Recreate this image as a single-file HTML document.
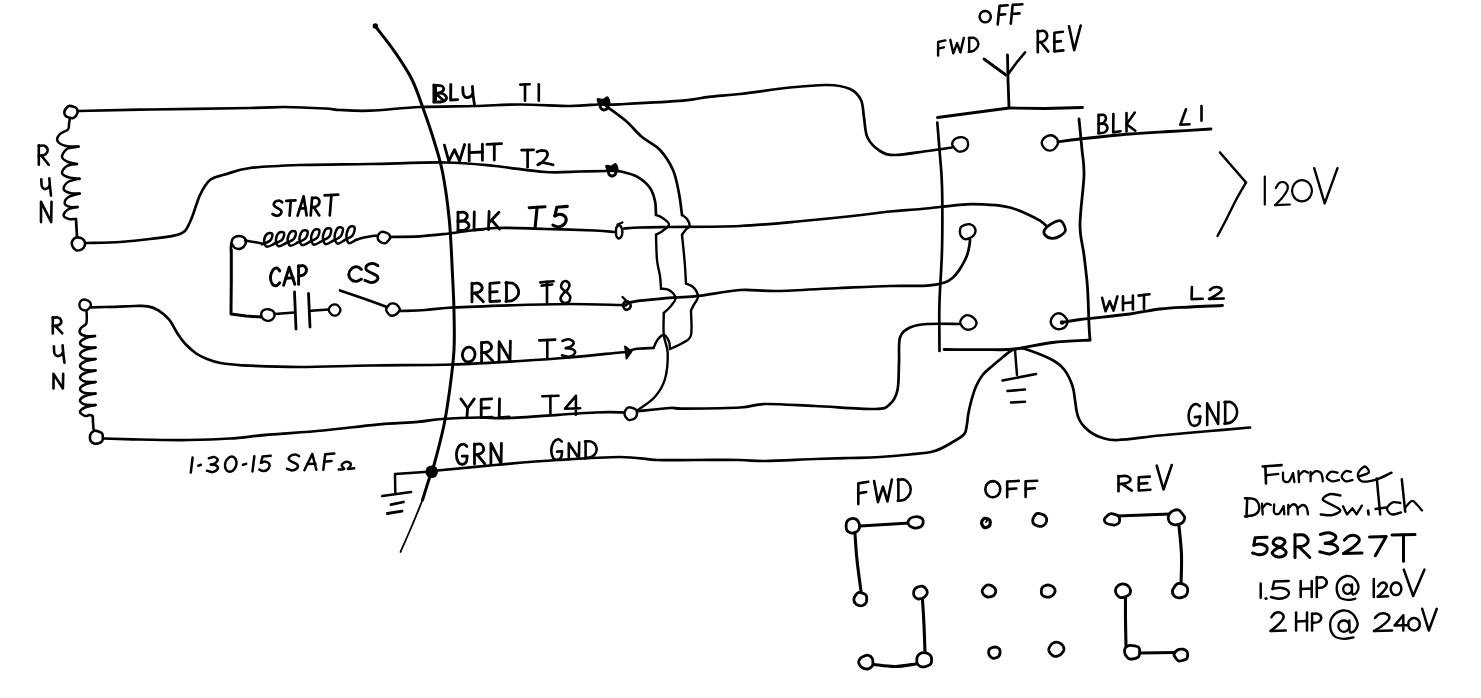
<!DOCTYPE html>
<html><head><meta charset="utf-8"><title>Motor wiring diagram</title>
<style>html,body{margin:0;padding:0;background:#fff;font-family:"Liberation Sans",sans-serif}svg{display:block}</style>
</head><body>
<svg width="1481" height="698" viewBox="0 0 1481 698">
<rect width="1481" height="698" fill="#fff"/>
<g stroke="#000" fill="none" stroke-linecap="round" stroke-linejoin="round">
<path d="M375.5 26.5C378.6 30.6 388.4 42.6 394.4 51.3C400.4 60 406.7 69.1 411.6 78.8C416.5 88.5 419.9 99.4 423.6 109.7C427.3 120 430.9 130.3 434 140.7C437.1 151.1 439.9 158.8 442.5 172C445.1 185.2 447.6 202.8 449.3 220C451 237.2 451.7 259.7 452.5 275C453.3 290.3 453.8 299.5 454 312C454.2 324.5 454.7 337.4 454 350C453.3 362.6 451.7 375 450 387.5C448.3 400 446.7 412.1 444 425C441.3 437.9 436.2 457 434 465C431.8 473 432.9 467.2 431 473C429.1 478.8 423.9 495.5 422.5 500" stroke-width="3" fill="none"/>
<path d="M422.5 500C420.8 504.1 416.2 515.8 412.5 524.5C408.8 533.2 402.5 547.4 400.5 552" stroke-width="1.8" fill="none"/>
<circle cx="375.3" cy="26" r="2.7" fill="#000" stroke="none"/>
<path d="M78 111C90 110.8 121.3 110 150 109.5C178.7 109 227.5 108.4 250 108C272.5 107.6 272.5 106.9 285 107C297.5 107.1 315.8 108 325 108.5C334.2 109 332.5 109.6 340 110C347.5 110.4 356.7 111.2 370 110.7C383.3 110.2 402.5 107.8 420 107C437.5 106.2 458.3 106.4 475 106C491.7 105.6 504.2 104.5 520 104.5C535.8 104.5 557.2 106 570 106C582.8 106 591.5 104.8 597 104.5C602.5 104.2 602 104.5 603 104.5" stroke-width="2.7" fill="none"/>
<path d="M603 104.5C605.7 104.5 605.7 105 619 104.3C632.3 103.6 668 101.8 683 100.6C698 99.3 699.5 97.9 709 96.8C718.5 95.7 726.5 95.5 740 94C753.5 92.5 775.4 89 790 87.5C804.6 86 817.5 84.8 827.5 85C837.5 85.2 844.4 86.5 850 89C855.6 91.5 858.7 95.2 861 100C863.3 104.8 862.9 111.2 864 117.5C865.1 123.8 864.8 131.9 867.5 137.5C870.2 143.1 875.4 148.1 880 151C884.6 153.9 887.1 155 895 155C902.9 155 918 152.2 927.5 151C937 149.8 947.9 148.1 952 147.5" stroke-width="2.7" fill="none"/>
<path d="M70 118C69.8 119 69.3 122.1 69 124C68.7 125.9 69.5 127.8 68 129.5C66.5 131.2 61.8 132.1 60 134C58.2 135.9 56.5 139 57.5 141C58.5 143 62.5 145.1 66 146C69.5 146.9 76.4 146.5 78.5 146.6" stroke-width="2.5" fill="none"/>
<path d="M78.5 146.6C76.6 147 69.8 147.3 67 149C64.2 150.7 61.8 154.8 62 157C62.2 159.2 65.5 160.8 68 162C70.5 163.2 75.5 163.7 77 164" stroke-width="2.5" fill="none"/>
<path d="M77 164C75.3 164.3 69.5 164.5 67 166C64.5 167.5 61.7 171.1 62 173C62.3 174.9 66.1 176.6 69 177.5C71.9 178.4 77.8 178.5 79.6 178.7" stroke-width="2.5" fill="none"/>
<path d="M79.6 178.7C77.7 179.2 70.7 180.3 68 182C65.3 183.7 63.3 187.2 63.6 189C63.9 190.8 67.3 192.2 70 193C72.7 193.8 78 193.5 79.6 193.6" stroke-width="2.5" fill="none"/>
<path d="M79.6 193.6C77.8 194.2 71 195.3 68.5 197C66 198.7 64.5 201.8 64.7 203.5C65 205.2 67.9 206.4 70 207C72.1 207.6 76.2 207 77.5 207" stroke-width="2.5" fill="none"/>
<path d="M77.5 207C75.9 207.4 70.3 208.1 68 209.5C65.7 210.9 63.4 213.8 63.6 215.4C63.8 217 66.9 218.4 69 219C71.1 219.6 74.8 219 76 219" stroke-width="2.5" fill="none"/>
<path d="M76 219C76.1 220.5 76.3 225 76.5 228C76.7 231 76.9 235.5 77 237" stroke-width="2.7" fill="none"/>
<path d="M77.6 112C77.6 113.2 76.9 114.5 76.2 115.5C75.5 116.5 74.3 117.8 73.2 118.1C72 118.5 70.3 118 69 117.6C67.8 117.2 66.2 116.7 65.5 115.7C64.7 114.8 64.3 113.2 64.3 112C64.4 110.8 65.1 109.6 65.9 108.6C66.6 107.6 67.7 106.4 68.9 106C70.1 105.7 71.7 106.1 72.9 106.5C74.2 106.8 75.7 107.4 76.4 108.3C77.2 109.3 77.6 110.8 77.6 112Z" stroke-width="2.6" fill="#fff"/>
<path d="M85 244C85 245.2 84.5 246.5 83.8 247.5C83.1 248.4 81.9 249.4 80.6 249.9C79.4 250.4 77.5 250.7 76.2 250.3C75 249.9 73.9 248.5 73.2 247.5C72.4 246.4 71.9 245.2 71.8 244C71.7 242.8 72 241.3 72.7 240.2C73.5 239.2 74.9 238 76.2 237.6C77.5 237.2 79.4 237.5 80.7 237.9C82 238.4 83.3 239.3 84.1 240.4C84.8 241.4 85.1 242.8 85 244Z" stroke-width="2.6" fill="#fff"/>
<path d="M85.5 243C91.2 242.8 109.2 242.7 120 242C130.8 241.3 140 240.3 150 239C160 237.7 173.3 236.8 180 234C186.7 231.2 186.7 228.5 190 222C193.3 215.5 196.7 202 200 195C203.3 188 205.8 183.4 210 180C214.2 176.6 218.3 176.5 225 174.5C231.7 172.5 237.5 169.6 250 168C262.5 166.4 280 165.7 300 165C320 164.3 345.8 164.4 370 164C394.2 163.6 424.2 162.2 445 162.5C465.8 162.8 478.3 164.4 495 166C511.7 167.6 530.8 171.1 545 172C559.2 172.9 569.7 171.7 580 171.5C590.3 171.3 602.5 171.1 607 171" stroke-width="2.7" fill="none"/>
<path d="M231 251C231 250 230.7 247.1 231 245C231.3 242.9 231.7 240 233 238.5C234.3 237 237 236 239 236C241 236 243.9 237.2 245 238.5C246.1 239.8 246.2 242.3 245.5 244C244.8 245.7 242.8 247.8 241 248.5C239.2 249.2 236.5 248.8 235 248C233.5 247.2 232.5 244.7 232 244" stroke-width="2.5" fill="none"/>
<path d="M231.3 250L231.3 280L231 314L246 316L261 317" stroke-width="3" fill="none"/>
<path d="M245 240.5C246.5 240.8 251.2 241.5 254 242C256.8 242.5 260.7 243.2 262 243.5" stroke-width="2.5" fill="none"/>
<path d="M262 244.4C263.4 243.8 268.5 242.2 270.2 240.5C271.9 238.8 272.8 235.1 272.3 234C271.9 232.9 268.7 232.6 267.3 233.7C265.9 234.8 264.2 238.3 264.1 240.5C264 242.7 265.1 246.1 266.7 246.7C268.3 247.3 272.6 244.6 273.8 244.1C274.9 243.6 272.4 244.5 273.8 243.8C275.1 243.1 280.3 241.6 282 239.8C283.7 238 284.6 234.2 284.1 233.1C283.6 231.9 280.4 231.6 279 232.7C277.7 233.9 276 237.5 275.9 239.8C275.8 242 276.8 245.5 278.4 246.2C280.1 246.8 284.3 244 285.5 243.5C286.7 243 284.1 244 285.5 243.2C286.9 242.5 292 240.9 293.7 239.1C295.4 237.2 296.3 233.4 295.8 232.1C295.4 230.9 292.2 230.6 290.8 231.8C289.4 233 287.7 236.8 287.6 239.1C287.5 241.4 288.6 245 290.2 245.7C291.8 246.3 296.1 243.4 297.2 242.9C298.4 242.4 295.9 243.4 297.2 242.6C298.6 241.9 303.8 240.3 305.5 238.4C307.2 236.5 308.1 232.5 307.6 231.2C307.1 230 303.9 229.7 302.5 230.9C301.2 232 299.5 236 299.4 238.4C299.3 240.7 300.3 244.5 301.9 245.1C303.6 245.8 307.8 242.8 309 242.3C310.2 241.8 307.6 242.8 309 242.1C310.4 241.3 315.5 239.6 317.2 237.6C318.9 235.7 319.8 231.6 319.3 230.3C318.9 229 315.7 228.7 314.3 229.9C312.9 231.1 311.2 235.2 311.1 237.6C311 240.1 312.1 244 313.7 244.6C315.3 245.3 319.6 242.2 320.8 241.7C321.9 241.2 319.4 242.3 320.8 241.5C322.1 240.7 327.3 238.9 329 236.9C330.7 234.9 331.6 230.7 331.1 229.4C330.6 228 327.4 227.7 326 229C324.7 230.2 323 234.4 322.9 236.9C322.8 239.5 323.8 243.4 325.4 244.1C327.1 244.8 331.3 241.6 332.5 241.1C333.7 240.6 331.1 241.7 332.5 240.9C333.9 240.1 339 238.3 340.7 236.2C342.4 234.1 343.3 229.8 342.8 228.4C342.4 227.1 339.2 226.7 337.8 228C336.4 229.3 334.7 233.6 334.6 236.2C334.5 238.8 335.6 242.9 337.2 243.6C338.8 244.3 343.1 241 344.2 240.5C345.4 239.9 342.9 241.1 344.2 240.3C345.6 239.5 350.8 237.6 352.5 235.5C354.2 233.4 355.1 228.9 354.6 227.5C354.1 226.1 350.9 225.8 349.5 227.1C348.2 228.4 346.5 232.8 346.4 235.5C346.3 238.2 347.3 242.4 348.9 243.1C350.6 243.8 354.8 240.4 356 239.9" stroke-width="2.5" fill="none"/>
<path d="M356 240C357 239.7 359.7 238.6 362 238C364.3 237.4 367.3 236.9 370 236.5C372.7 236.1 376.7 235.7 378 235.5" stroke-width="2.5" fill="none"/>
<path d="M390.4 237.5C390.3 238.6 389.1 239.6 388.3 240.6C387.5 241.5 386.8 242.8 385.7 243.1C384.6 243.5 382.9 243.1 381.7 242.6C380.6 242.2 379.5 241.5 378.8 240.6C378.1 239.7 377.7 238.5 377.7 237.5C377.7 236.5 378 235.2 378.7 234.3C379.3 233.4 380.4 232.2 381.6 231.9C382.7 231.6 384.2 232.1 385.4 232.4C386.6 232.8 387.9 233.3 388.8 234.2C389.6 235 390.5 236.4 390.4 237.5Z" stroke-width="2.5" fill="#fff"/>
<path d="M274.7 315C274.6 316.2 273.9 317.5 273.1 318.5C272.3 319.4 271 320.4 269.8 320.7C268.6 321.1 267 320.7 265.7 320.3C264.5 319.9 263.3 319.2 262.6 318.3C261.8 317.4 261.3 316.2 261.2 315C261.1 313.8 261.3 312.3 262 311.4C262.8 310.4 264.3 309.7 265.6 309.4C266.9 309 268.5 309.1 269.7 309.5C271 309.8 272.5 310.5 273.3 311.4C274.1 312.3 274.7 313.8 274.7 315Z" stroke-width="2.4" fill="#fff"/>
<path d="M274.6 314L288 313L294 312.5" stroke-width="2.5" fill="none"/>
<path d="M294.5 292L296 329" stroke-width="2.8" fill="none"/>
<path d="M308.5 293.5L310 327" stroke-width="2.8" fill="none"/>
<path d="M311 310.7L328.5 309.6" stroke-width="2.5" fill="none"/>
<path d="M340.5 310C340.5 311 339.9 312.2 339.2 313.1C338.6 314 337.6 315 336.6 315.4C335.5 315.7 333.9 315.7 332.9 315.3C331.8 314.9 330.9 313.9 330.2 313C329.5 312.2 328.9 311 328.8 310C328.8 309 329.3 307.7 330 306.8C330.7 305.9 331.7 304.9 332.8 304.6C333.9 304.2 335.5 304.3 336.6 304.7C337.6 305.1 338.6 306 339.2 306.9C339.9 307.8 340.5 309 340.5 310Z" stroke-width="2.3" fill="#fff"/>
<path d="M340 290.5L365 299L387 307" stroke-width="2.7" fill="none"/>
<path d="M399.8 309.6C399.7 310.7 398.6 312 397.7 312.9C396.9 313.8 395.9 314.8 394.7 315.2C393.5 315.7 391.8 315.9 390.6 315.5C389.4 315.2 388.4 313.9 387.7 312.9C386.9 311.9 386.1 310.7 386.1 309.6C386.1 308.5 387 307.3 387.8 306.3C388.5 305.4 389.4 304.2 390.6 303.7C391.8 303.3 393.6 303.3 394.8 303.7C396.1 304 397.3 305 398.1 306C398.9 307 399.9 308.5 399.8 309.6Z" stroke-width="2.4" fill="#fff"/>
<path d="M390 237C395 236.9 410.8 236.8 420 236.3C429.2 235.8 432.5 235.4 445 234C457.5 232.6 478.3 228.8 495 228C511.7 227.2 528.3 228.6 545 229C561.7 229.4 583.5 230 595 230.5C606.5 231 610.8 231.8 614 232" stroke-width="2.7" fill="none"/>
<path d="M624 228.5C626.7 228.3 632.5 227.8 640 227.5C647.5 227.2 652.3 227.2 669 227C685.7 226.8 717.8 227 740 226C762.2 225 783.8 222.7 802.5 221C821.2 219.3 837.9 217.6 852.5 216C867.1 214.4 879.6 212.6 890 211.5C900.4 210.4 906.7 210.2 915 209.5C923.3 208.8 931.4 207.9 940 207C948.6 206.1 959 204.7 966.5 204.3C974 203.9 979.8 204.3 985 204.5C990.2 204.7 993.8 204.8 998 205.3C1002.2 205.8 1005.9 206.4 1010 207.5C1014.1 208.6 1017.6 209.8 1022.5 212C1027.4 214.2 1035.3 217.8 1039.6 220.4C1043.8 223 1046.6 226.3 1048 227.5" stroke-width="2.7" fill="none"/>
<path d="M399.5 311C403.8 310.8 416.2 310.6 425 310C433.8 309.4 436.2 308.3 452 307.5C467.8 306.7 500.3 305.6 520 305C539.7 304.4 553.3 304 570 304C586.7 304 610.7 304.8 620 305C629.3 305.2 625 305 626 305" stroke-width="2.7" fill="none"/>
<path d="M626 305C627.3 304.4 626.2 302.8 634 301.6C641.8 300.4 662 298.6 672.8 297.7C683.6 296.8 687.4 297.2 698.6 295.9C709.8 294.6 726.9 290.8 740 290C753.1 289.2 760.8 291.3 777.5 291C794.2 290.7 821.2 288.8 840 288C858.8 287.2 875.4 286.4 890 286C904.6 285.6 918.4 286.3 927.5 285.7C936.6 285.1 940.4 283.9 944.6 282.5C948.9 281.1 950.6 279.5 953 277.5C955.4 275.5 957.1 273.1 959 270.4C960.9 267.6 963 263.9 964.5 261C966 258.1 966.9 256 967.7 253.3C968.5 250.6 969.1 247.3 969.5 245C969.9 242.7 969.9 240.4 970 239.5" stroke-width="2.7" fill="none"/>
<path d="M91 307.3C95 307.2 107.7 307 115 306.8C122.3 306.6 129.5 306.1 135 306C140.5 305.9 144.1 305.6 148 306.3C151.9 307 154.9 308.1 158.4 310.3C161.9 312.5 166 315.9 169.2 319.7C172.3 323.5 174.6 329.1 177.3 333.2C180 337.2 182.2 340.6 185.4 344C188.6 347.4 192.6 351 196.2 353.5C199.8 356 202.9 357.4 207 359C211.1 360.6 214.7 361.9 220.5 363C226.3 364.1 228.8 364.6 242 365.3C255.2 366 278.7 367 300 367C321.3 367 344.6 365.9 370 365.5C395.4 365.1 427.5 365.2 452.5 364.5C477.5 363.8 500.4 362.2 520 361C539.6 359.8 553.3 358.9 570 357.5C586.7 356.1 610.5 353.4 620 352.5C629.5 351.6 625.8 352.1 627 352" stroke-width="2.7" fill="none"/>
<path d="M627 352C628.4 351.5 631 349.7 635.4 349C639.8 348.3 650.5 348.2 653.5 348" stroke-width="2.7" fill="none"/>
<path d="M653.5 348C654.1 346.7 655.7 342.2 657.4 340C659.1 337.8 661.9 334.8 663.8 335C665.7 335.2 668 339.2 669 341.5C670 343.8 669.8 347.8 670 349" stroke-width="2.4" fill="none"/>
<path d="M86.5 311C86.5 312.2 86.9 315.8 86.8 318C86.7 320.2 87 322.3 86 324C85 325.7 82 326.5 81 328C80 329.5 79.2 331.7 80 333C80.8 334.3 83.5 335.5 86 336C88.5 336.5 93.5 336 95 336" stroke-width="2.5" fill="none"/>
<path d="M95 336C93.3 336.4 87.5 337.3 85 338.5C82.5 339.7 80 341.6 80 343C80 344.4 82.4 346.2 85 347C87.6 347.8 93.8 347.4 95.5 347.5" stroke-width="2.5" fill="none"/>
<path d="M95.5 347.5C93.8 347.9 87.6 348.8 85 350C82.4 351.2 80 353.1 80 354.5C80 355.9 82.4 357.8 85 358.5C87.6 359.2 93.8 358.9 95.5 359" stroke-width="2.5" fill="none"/>
<path d="M95.5 359C93.8 359.4 87.6 360.3 85 361.5C82.4 362.7 80 364.6 80 366C80 367.4 82.4 369.2 85 370C87.6 370.8 93.8 370.4 95.5 370.5" stroke-width="2.5" fill="none"/>
<path d="M95.5 370.5C93.8 370.9 87.6 371.8 85 373C82.4 374.2 80 376.1 80 377.5C80 378.9 82.4 380.8 85 381.5C87.6 382.2 93.8 381.9 95.5 382" stroke-width="2.5" fill="none"/>
<path d="M95.5 382C93.8 382.4 87.6 383.3 85 384.5C82.4 385.7 80 387.6 80 389C80 390.4 82.4 392.2 85 393C87.6 393.8 93.8 393.4 95.5 393.5" stroke-width="2.5" fill="none"/>
<path d="M95.5 393.5C93.8 393.9 87.6 394.8 85 396C82.4 397.2 80 399.1 80 400.5C80 401.9 82.4 403.8 85 404.5C87.6 405.2 93.8 404.9 95.5 405" stroke-width="2.5" fill="none"/>
<path d="M95.5 405C93.8 405.4 87.6 406.3 85 407.5C82.4 408.7 80 410.6 80 412C80 413.4 83.5 415.5 85 416C86.5 416.5 88.3 415.2 89 415" stroke-width="2.5" fill="none"/>
<path d="M89 415C89.6 415.2 91.8 414.8 92.5 416C93.2 417.2 92.8 419.8 93 422C93.2 424.2 93.4 427.8 93.5 429" stroke-width="2.6" fill="none"/>
<path d="M90.9 305C90.9 306 90.1 307.1 89.4 308C88.7 308.8 87.8 309.8 86.8 310.1C85.8 310.4 84.3 310.4 83.2 310C82.2 309.7 81 308.9 80.4 308.1C79.8 307.3 79.5 306.1 79.4 305C79.4 303.9 79.6 302.7 80.2 301.8C80.8 300.9 82.1 300 83.1 299.7C84.2 299.4 85.6 299.7 86.7 300.1C87.8 300.4 88.9 301 89.6 301.9C90.4 302.7 91 304 90.9 305Z" stroke-width="2.4" fill="#fff"/>
<path d="M102.8 437C102.9 438.3 102.9 439.8 102.2 440.9C101.5 441.9 100 442.8 98.7 443.2C97.3 443.7 95.6 443.9 94.2 443.6C92.9 443.2 91.4 442.1 90.7 441C90 439.9 89.9 438.3 89.9 437C90 435.7 90.4 434.3 91.1 433.3C91.8 432.3 93.1 431.1 94.3 430.7C95.6 430.4 97.2 431 98.4 431.4C99.7 431.8 101.2 432.3 102 433.3C102.7 434.2 102.8 435.7 102.8 437Z" stroke-width="2.6" fill="#fff"/>
<path d="M103.5 438.5C109.6 438.7 125.9 439.2 140 439.5C154.1 439.8 173 440.2 188 440C203 439.8 216.5 439.4 230 438.5C243.5 437.6 253.5 435.9 269 434.6C284.5 433.3 305 432.2 323 430.5C341 428.8 361.2 426 377 424.6C392.8 423.2 407 422.8 417.8 421.9C428.6 421 431.6 419.7 442 419C452.4 418.3 468.7 417.7 480 417.5C491.3 417.3 490.8 418.8 510 418C529.2 417.2 576 413.4 595 412.5C614 411.6 619.2 412.5 624 412.5" stroke-width="2.7" fill="none"/>
<path d="M637.5 411.2C642.9 410.7 662.4 408.4 670 408C677.6 407.6 671.3 408.7 683 408.6C694.7 408.5 726.3 408.3 740 407.5C753.7 406.7 752.5 404.2 765 404C777.5 403.8 796.7 405.2 815 406C833.3 406.8 862.5 409.3 875 409C887.5 408.7 886.2 407.2 890 404C893.8 400.8 896 396.9 897.5 390C899 383.1 898.6 371.2 899 362.5C899.4 353.8 898.2 343.3 900 337.5C901.8 331.7 905.4 329.8 910 327.5C914.6 325.2 919.3 324.6 927.5 324C935.7 323.4 953.8 324 959 324" stroke-width="2.7" fill="none"/>
<path d="M637 413.7C637 414.9 636.5 416.3 635.8 417.2C635.1 418.2 633.9 418.9 632.7 419.4C631.5 419.8 629.8 420.4 628.7 420C627.5 419.7 626.5 418.3 625.8 417.2C625.1 416.2 624.5 414.9 624.5 413.7C624.4 412.5 624.9 411.1 625.6 410C626.2 408.9 627.4 407.6 628.6 407.3C629.8 406.9 631.5 407.6 632.7 408C633.9 408.5 635.4 409 636.1 410C636.8 410.9 637.1 412.5 637 413.7Z" stroke-width="2.4" fill="#fff"/>
<path d="M437.5 470.5C447.1 469.6 475 466.8 495 465C515 463.2 536.7 461.3 557.5 460C578.3 458.7 603.3 457 620 457C636.7 457 645 459.5 657.5 460C670 460.5 681.2 460 695 460C708.8 460 728.3 459.8 740 460C751.7 460.2 752.5 461.2 765 461C777.5 460.8 800.8 459.5 815 459C829.2 458.5 839.2 458.3 850 458C860.8 457.7 870 457.6 880 457C890 456.4 901 455.4 910 454.5C919 453.6 927 453.3 934 451.3C941 449.3 947 445.4 952 442.5C957 439.6 961.7 437.3 964.2 434.2C966.7 431.1 966.3 427.3 967 424C967.7 420.7 967.5 418.2 968.2 414.2C969 410.2 970.2 404.7 971.5 400C972.8 395.3 974.3 390.2 976.2 386C978.1 381.8 980.3 377.8 983 374.5C985.7 371.2 989 368.9 992.3 366C995.6 363.1 999.7 359.7 1003 357C1006.3 354.3 1009.5 351.4 1012.3 350C1015.1 348.6 1017.3 348.5 1020 348.5C1022.7 348.5 1023 348.1 1028.4 350C1033.8 351.9 1046.4 356.7 1052.4 360C1058.4 363.3 1061.2 365.7 1064.5 370C1067.8 374.3 1070.8 381 1072.5 386C1074.2 391 1074.3 395.7 1075 400C1075.7 404.3 1076 408.7 1076.8 412C1077.5 415.3 1078.2 417.5 1079.5 420C1080.8 422.5 1082.3 424.8 1084.5 427C1086.7 429.2 1089.6 431.7 1092.5 433.5C1095.4 435.3 1097.8 436.7 1102 437.8C1106.2 438.9 1108.3 440.4 1118 440C1127.7 439.6 1144.7 437 1160 435.5C1175.3 434 1195 432.3 1210 431C1225 429.7 1243.3 428.1 1250 427.5" stroke-width="2.7" fill="none"/>
<circle cx="431.7" cy="471.7" r="6.3" fill="#000" stroke="none"/>
<path d="M428 471.7L395 474L395.3 493" stroke-width="2.5" fill="none"/>
<path d="M382.3 496L411 492" stroke-width="2.7" fill="none"/>
<path d="M391 504.6L403.5 502" stroke-width="2.8" fill="none"/>
<path d="M387.3 513.5L402 511.2" stroke-width="2.8" fill="none"/>
<path d="M616 171.5C616.8 171.5 617.5 170.6 621 171.5C624.5 172.4 632.2 173.9 637 176.7C641.8 179.4 647 183.9 650 188C653 192.1 654 196.5 655 201C656 205.5 655.8 212.7 656 215" stroke-width="2.7" fill="none"/>
<path d="M656 215C657.1 215.5 660.3 216.4 662.5 218C664.7 219.6 669 222.2 669 224.4C669 226.6 664.7 229.3 662.5 231C660.3 232.7 657.1 234.1 656 234.7" stroke-width="2.4" fill="none"/>
<path d="M656 234.7C656.2 238.9 656.3 253.1 657 260C657.7 266.9 659.3 271.2 660 276C660.7 280.8 660.8 286.6 661 288.7" stroke-width="2.4" fill="none"/>
<path d="M661 288.7C662.3 288.9 666.6 288.5 669 290C671.4 291.5 675 295.1 675.4 297.7C675.8 300.3 673.4 302.8 671.5 305.4C669.6 307.9 665.1 311.7 663.8 313" stroke-width="2.4" fill="none"/>
<path d="M663.8 313C663.8 316.7 663.1 328.3 663.8 335C664.4 341.7 667.5 345.7 667.7 353C667.9 360.3 667.1 371.7 665 379C662.9 386.3 659.3 391.8 654.8 397C650.3 402.2 640.8 407.8 638 410" stroke-width="2.4" fill="none"/>
<path d="M606 106C609.3 108.5 620 115.8 626 121C632 126.2 636.3 132.2 642 137C647.7 141.8 654.8 144.5 660 150C665.2 155.5 669.8 162.8 673 170C676.2 177.2 677.5 186 679 193.5C680.5 201 681.5 211.4 682 215" stroke-width="2.7" fill="none"/>
<path d="M682 215C682.8 215.7 685.7 217.2 687 219C688.3 220.8 689.8 223.9 689.6 225.7C689.4 227.4 687.3 228 686 229.5C684.7 231 682.7 233.8 682 234.7" stroke-width="2.4" fill="none"/>
<path d="M682 234.7C682.4 238.9 683.8 251.9 684.5 260C685.2 268.1 685.8 279.6 686 283.5" stroke-width="2.4" fill="none"/>
<path d="M686 283.5C687.2 284.1 691.5 285.2 693.5 287.4C695.5 289.5 698 293.4 698 296.4C698 299.4 694.7 303 693.5 305.4C692.3 307.8 691.4 309.7 691 310.6" stroke-width="2.4" fill="none"/>
<path d="M691 310.6C691 314.7 692.3 329.6 691 335C689.7 340.4 686.5 340.5 683 342.8C679.5 345.1 672.2 348 670 349" stroke-width="2.4" fill="none"/>
<path d="M597.5 99C598.1 98.2 601.4 99.8 603 99.5C604.6 99.2 606.2 97 607.2 97C608.2 97 608.6 98.2 609 99.5C609.4 100.8 610.1 103.6 609.5 104.5C608.9 105.4 606.9 105.1 605.2 105C603.5 104.9 600.8 105 599.5 104C598.2 103 596.9 99.8 597.5 99Z" stroke-width="1.5" fill="#000"/>
<path d="M608 105.7C608.1 106.5 607.9 107.5 607.4 108.2C607 108.9 606.1 109.4 605.3 109.7C604.5 110 603.4 110 602.7 109.7C602 109.4 601.3 108.6 600.9 108C600.4 107.3 600.1 106.5 600.1 105.7C600 104.9 600.4 104.1 600.8 103.4C601.3 102.7 601.9 102 602.7 101.7C603.4 101.4 604.6 101.3 605.3 101.6C606.1 101.9 606.6 102.8 607.1 103.5C607.5 104.2 608 104.9 608 105.7Z" stroke-width="3" fill="none"/>
<path d="M606 165.7C606.5 165 609.7 166.5 611.3 166.2C612.9 165.9 614.4 163.7 615.3 163.7C616.3 163.7 616.7 165 617.1 166.2C617.5 167.4 618.2 170.1 617.6 171C617 171.9 615 171.6 613.4 171.5C611.8 171.4 609.2 171.5 608 170.5C606.8 169.5 605.5 166.4 606 165.7Z" stroke-width="1.5" fill="#000"/>
<path d="M615.9 172.2C615.9 172.9 615.7 173.8 615.2 174.3C614.8 174.9 614.1 175.4 613.4 175.7C612.7 175.9 611.8 176 611.1 175.8C610.4 175.6 609.6 175.1 609.2 174.5C608.8 173.9 608.6 172.9 608.6 172.2C608.7 171.5 609.1 170.7 609.5 170.1C609.9 169.5 610.5 168.9 611.1 168.6C611.8 168.4 612.7 168.4 613.4 168.7C614.2 168.9 615 169.4 615.4 169.9C615.8 170.5 615.9 171.5 615.9 172.2Z" stroke-width="3" fill="none"/>
<path d="M622.4 232C622.4 233.3 622.1 234.9 621.7 235.9C621.3 236.9 620.6 237.7 620 238.1C619.4 238.5 618.6 238.6 618 238.2C617.4 237.8 616.7 236.9 616.3 235.9C616 234.8 616 233.3 616 232C616 230.7 615.9 229.1 616.2 228C616.6 226.9 617.3 226 618 225.6C618.6 225.2 619.4 225.1 620 225.5C620.7 226 621.3 227 621.7 228.1C622.1 229.1 622.4 230.7 622.4 232Z" stroke-width="2.4" fill="none"/>
<path d="M617.5 224.5L622.5 222.5" stroke-width="2.2" fill="none"/>
<path d="M630.6 305.5C630.7 306.3 630.4 307.4 629.9 308C629.5 308.7 628.7 309.1 627.9 309.4C627.2 309.7 626.2 310 625.6 309.8C624.9 309.5 624.3 308.6 623.9 307.9C623.5 307.2 623.2 306.3 623.2 305.5C623.2 304.7 623.4 303.7 623.8 303C624.2 302.4 625 301.8 625.7 301.5C626.4 301.3 627.3 301.2 628 301.4C628.7 301.7 629.3 302.4 629.7 303.1C630.2 303.8 630.6 304.7 630.6 305.5Z" stroke-width="2.6" fill="none"/>
<path d="M622.5 297L627 301.5" stroke-width="2.4" fill="none"/>
<path d="M625 346.5L631.5 351.5L626.5 358.5L626 352Z" stroke-width="2" fill="#000"/>
<path d="M937.5 117.5L975 112.5L1009 108L1045 108.5L1082.5 107.5" stroke-width="2.8" fill="none"/>
<path d="M937.3 122.5C937.7 127.1 938.8 141.2 939.5 150C940.2 158.8 941 166.7 941.5 175C942 183.3 942.2 187.5 942.3 200C942.4 212.5 942.4 235 942 250C941.6 265 940.5 280 940 290C939.5 300 939.4 304.2 939.3 310C939.2 315.8 939.3 318.2 939.3 325C939.3 331.8 939.5 346.7 939.5 351" stroke-width="2.7" fill="none"/>
<path d="M1079 119C1079.5 124.2 1081.2 140.7 1082 150C1082.8 159.3 1084.3 162.5 1084 175C1083.7 187.5 1080 211.7 1080 225C1080 238.3 1082.8 244.6 1084 255C1085.2 265.4 1086.7 275.8 1087.5 287.5C1088.3 299.2 1088.6 316.2 1089 325C1089.4 333.8 1089.8 337.5 1090 340" stroke-width="2.8" fill="none"/>
<path d="M944 349.5C951.7 349.5 978.2 349.8 990 349.7C1001.8 349.6 1004.6 350.2 1015 349C1025.4 347.8 1040 344 1052.5 342.5C1065 341 1083.8 340.4 1090 340" stroke-width="2.8" fill="none"/>
<path d="M1009 107.5L1008 80L1007.5 55" stroke-width="2.8" fill="none"/>
<path d="M1006 75L984 59" stroke-width="2.8" fill="none"/>
<path d="M1007.5 75L1017 62L1025 52.5" stroke-width="2.6" fill="none"/>
<path d="M968.1 144.3C968 145.7 967.7 147.4 966.8 148.5C966 149.6 964.4 150.6 963 151.1C961.6 151.5 959.7 151.8 958.3 151.4C956.9 150.9 955.7 149.6 954.7 148.4C953.7 147.2 952.3 145.7 952.2 144.3C952.1 142.9 953.1 140.9 954.1 139.8C955.1 138.6 956.9 137.9 958.4 137.5C959.9 137.1 961.6 136.9 963.1 137.4C964.5 137.8 966.2 138.8 967 139.9C967.8 141.1 968.1 142.9 968.1 144.3Z" stroke-width="2.4" fill="#fff"/>
<path d="M1058.1 142.5C1058.1 143.9 1057.2 145.4 1056.3 146.6C1055.4 147.9 1054.2 149.4 1052.7 150C1051.2 150.6 1048.8 150.7 1047.2 150.2C1045.7 149.7 1044.2 148.2 1043.3 146.9C1042.4 145.6 1041.7 143.9 1041.7 142.5C1041.8 141.1 1042.8 139.5 1043.7 138.4C1044.7 137.3 1046.1 136.3 1047.6 135.8C1049.1 135.3 1051 135.1 1052.5 135.5C1054 136 1055.5 137.1 1056.5 138.3C1057.4 139.4 1058.1 141.1 1058.1 142.5Z" stroke-width="2.4" fill="#fff"/>
<path d="M975.5 231.5C975.4 233 974.3 234.6 973.3 235.7C972.3 236.8 971 237.6 969.5 238.2C968.1 238.8 966.1 239.6 964.7 239.2C963.3 238.9 961.8 237.3 961 236C960.2 234.7 959.9 233 959.9 231.5C959.9 230 960.1 228.1 960.9 227C961.8 225.9 963.6 225.3 965.1 224.8C966.5 224.4 968.2 223.9 969.7 224.2C971.2 224.6 973.1 225.5 974.1 226.7C975.1 227.9 975.6 230 975.5 231.5Z" stroke-width="2.4" fill="#fff"/>
<path d="M1044.5 230C1045.5 228.2 1048.3 225.5 1051 224C1053.7 222.5 1058.1 219.8 1060.5 220.8C1062.9 221.8 1065.6 227.5 1065.5 230C1065.4 232.5 1062.2 234.6 1060 236C1057.8 237.4 1054.5 238.5 1052 238.3C1049.5 238.1 1046.2 236.4 1045 235C1043.8 233.6 1043.5 231.8 1044.5 230Z" stroke-width="2.7" fill="#fff"/>
<path d="M976.6 322.6C976.6 324 975.8 325.9 974.8 327C973.8 328.1 972.1 328.9 970.6 329.3C969.1 329.7 967.3 329.8 965.9 329.4C964.6 329 963.3 327.8 962.3 326.7C961.4 325.5 960.2 324 960.2 322.6C960.1 321.2 961 319.5 962 318.3C962.9 317.1 964.3 315.8 965.8 315.3C967.2 314.9 969.2 315.3 970.6 315.8C972.1 316.4 973.3 317.4 974.3 318.5C975.3 319.6 976.5 321.2 976.6 322.6Z" stroke-width="2.4" fill="#fff"/>
<path d="M1067.4 321C1067.6 322.5 1066.9 324.6 1066 325.9C1065 327.2 1063.2 328.4 1061.6 328.8C1060 329.3 1058 329.3 1056.4 328.8C1054.8 328.3 1053.2 327.1 1052.2 325.8C1051.2 324.5 1050.6 322.5 1050.7 321C1050.8 319.5 1051.8 317.9 1052.8 316.6C1053.8 315.4 1055.1 314 1056.5 313.6C1058 313.1 1060 313.2 1061.4 313.8C1062.8 314.3 1064 315.6 1065 316.8C1066 318 1067.2 319.5 1067.4 321Z" stroke-width="2.4" fill="#fff"/>
<circle cx="1062" cy="322.5" r="2.2" fill="#000" stroke="none"/>
<path d="M1058 142C1061.7 141.5 1068 140.3 1080 139C1092 137.7 1115 135.2 1130 134C1145 132.8 1156.5 132.3 1170 131.5C1183.5 130.7 1204.2 129.4 1211 129" stroke-width="2.8" fill="none"/>
<path d="M1063 322.3C1065.8 321.8 1068.8 320.9 1080 319.5C1091.2 318.1 1116.7 315.8 1130 314C1143.3 312.2 1150 310.2 1160 309C1170 307.8 1179.6 307.6 1190 307C1200.4 306.4 1217.1 305.8 1222.5 305.5" stroke-width="2.8" fill="none"/>
<path d="M1015 350L1017 375" stroke-width="2.5" fill="none"/>
<path d="M1002.5 380.5L1036 374" stroke-width="2.6" fill="none"/>
<path d="M1007.5 391L1025 389.5" stroke-width="2.6" fill="none"/>
<path d="M1011 402.5L1025 401.8" stroke-width="2.6" fill="none"/>
<path d="M1220 152.5L1246 182.5" stroke-width="2.6" fill="none"/>
<path d="M1246 182.5C1244.3 185.4 1239.3 193.8 1236 200C1232.7 206.2 1229.1 214 1226 220C1222.9 226 1218.9 233.3 1217.5 236" stroke-width="2.4" fill="none"/>
<path d="M860 526L910 523" stroke-width="3.1" fill="none"/>
<path d="M855 534C855.3 538.3 856 550.5 857 560C858 569.5 860.3 585.8 861 591" stroke-width="3.1" fill="none"/>
<path d="M859.5 526C859.5 527.3 859.2 528.9 858.5 530C857.7 531 856.4 531.9 855.1 532.4C853.8 532.9 852.1 533.2 850.8 532.9C849.4 532.5 847.7 531.6 846.9 530.4C846.1 529.3 846.1 527.5 846.1 526C846.1 524.5 846.2 522.8 846.9 521.6C847.7 520.4 849.3 519.3 850.7 518.8C852.1 518.4 854 518.3 855.3 518.9C856.6 519.4 857.8 520.8 858.5 522C859.2 523.2 859.5 524.7 859.5 526Z" stroke-width="2.8" fill="#fff"/>
<path d="M923.2 522.5C923.1 523.6 922.6 524.9 921.8 525.8C921 526.6 919.5 527.4 918.2 527.7C916.9 528.1 915.2 528.1 913.8 527.8C912.4 527.5 910.8 526.9 909.8 526C908.8 525.1 908.1 523.7 908 522.5C908 521.3 908.7 519.8 909.6 518.9C910.5 518 912.2 517.3 913.7 517C915.2 516.7 916.9 516.5 918.4 516.8C919.8 517.2 921.6 518 922.4 518.9C923.2 519.9 923.3 521.4 923.2 522.5Z" stroke-width="2.8" fill="#fff"/>
<path d="M866.7 599C866.6 600.3 866.6 601.8 866 602.9C865.3 603.9 863.9 605.1 862.7 605.5C861.4 605.9 859.7 605.8 858.4 605.4C857.1 604.9 855.7 604 854.9 602.9C854.2 601.9 853.8 600.2 853.9 599C854 597.8 854.7 596.5 855.4 595.4C856.2 594.4 857.2 593 858.4 592.6C859.5 592.2 861.2 592.7 862.5 593.1C863.8 593.5 865.4 594.1 866.1 595.1C866.8 596 866.7 597.7 866.7 599Z" stroke-width="2.8" fill="#fff"/>
<path d="M922.5 600C922.8 604.2 923.6 616.2 924 625C924.4 633.8 924.8 647.9 925 652.5" stroke-width="3.1" fill="none"/>
<path d="M927.3 592.5C927.3 593.7 926.3 595.1 925.4 596.1C924.5 597.1 923.3 597.8 922.1 598.3C920.8 598.8 919 599.2 917.7 598.8C916.5 598.5 915 597.3 914.3 596.3C913.6 595.2 913.5 593.7 913.6 592.5C913.6 591.3 914.1 590 914.8 589.1C915.6 588.1 916.8 587.4 918 586.9C919.3 586.5 920.9 585.9 922.2 586.2C923.5 586.5 924.9 587.6 925.8 588.7C926.6 589.7 927.4 591.3 927.3 592.5Z" stroke-width="2.8" fill="#fff"/>
<path d="M874 664.5C877.5 664.8 888 666.6 895 666.5C902 666.4 912.5 664.4 916 664" stroke-width="3.1" fill="none"/>
<path d="M872.9 662C872.9 663.3 873 665 872.2 666.1C871.5 667.2 869.9 668.4 868.4 668.8C867 669.2 865.1 668.9 863.7 668.4C862.3 667.9 861.1 666.9 860.2 665.8C859.4 664.7 858.6 663.2 858.6 662C858.7 660.8 859.6 659.3 860.4 658.3C861.3 657.4 862.6 656.7 863.9 656.2C865.2 655.7 867.1 654.9 868.4 655.3C869.8 655.6 871.3 656.9 872 658C872.8 659.2 872.9 660.7 872.9 662Z" stroke-width="2.8" fill="#fff"/>
<path d="M931.6 659.5C931.7 661 931.5 662.9 930.6 664C929.7 665.2 927.8 665.8 926.3 666.3C924.8 666.7 923 667.1 921.5 666.8C920 666.4 918.3 665.2 917.5 664C916.7 662.7 916.7 660.9 916.8 659.5C916.8 658.1 917.3 656.5 918.1 655.4C918.9 654.3 920.4 653.3 921.7 652.9C923.1 652.5 924.8 652.5 926.3 652.9C927.7 653.3 929.3 654.1 930.2 655.2C931.1 656.3 931.6 658 931.6 659.5Z" stroke-width="2.8" fill="#fff"/>
<path d="M990.2 523C990.2 523.9 990 525 989.5 525.7C989 526.4 988.1 526.8 987.3 527.1C986.5 527.4 985.3 527.9 984.6 527.7C983.8 527.4 983 526.4 982.5 525.6C982 524.9 981.7 523.9 981.6 523C981.6 522.1 981.9 521 982.4 520.3C982.9 519.5 983.7 518.6 984.6 518.3C985.4 518.1 986.5 518.4 987.3 518.7C988.2 519 989.3 519.4 989.8 520.1C990.3 520.8 990.3 522.1 990.2 523Z" stroke-width="3.2" fill="#fff"/>
<path d="M986 522L988.5 518.5" stroke-width="2" fill="none"/>
<path d="M1046.7 520C1046.7 521.3 1046.2 522.8 1045.4 523.9C1044.5 524.9 1043.1 526 1041.7 526.3C1040.4 526.6 1038.8 526.2 1037.4 525.8C1036.1 525.4 1034.5 524.8 1033.7 523.8C1032.9 522.9 1032.6 521.2 1032.7 520C1032.7 518.8 1033.4 517.5 1034.1 516.4C1034.9 515.3 1035.9 513.8 1037.2 513.4C1038.4 513 1040.3 513.6 1041.6 514.1C1043 514.5 1044.5 515.1 1045.3 516.1C1046.1 517.1 1046.7 518.7 1046.7 520Z" stroke-width="2.8" fill="#fff"/>
<path d="M995.8 591C995.9 592.2 995.2 593.7 994.4 594.7C993.6 595.6 992.2 596.4 991 596.7C989.7 597.1 988.2 597.3 987 596.9C985.7 596.6 984.4 595.7 983.6 594.7C982.8 593.7 982 592.2 982.1 591C982.2 589.8 983.2 588.6 984 587.6C984.8 586.6 985.8 585.4 986.9 585C988.1 584.7 989.8 584.9 991 585.3C992.2 585.7 993.3 586.5 994.1 587.5C995 588.4 995.8 589.8 995.8 591Z" stroke-width="2.8" fill="#fff"/>
<path d="M1055.1 591C1055.1 592.2 1054.3 593.6 1053.5 594.5C1052.7 595.5 1051.4 596.4 1050.1 596.8C1048.8 597.2 1047.1 597.3 1045.8 596.9C1044.5 596.6 1042.9 595.8 1042.1 594.8C1041.4 593.8 1041.2 592.2 1041.3 591C1041.3 589.8 1041.6 588.4 1042.4 587.4C1043.2 586.5 1044.6 585.6 1045.9 585.3C1047.2 584.9 1048.8 584.9 1050.1 585.3C1051.4 585.6 1052.8 586.4 1053.7 587.4C1054.5 588.3 1055.1 589.8 1055.1 591Z" stroke-width="2.8" fill="#fff"/>
<path d="M1000.1 652.5C1000 653.6 999.7 654.9 999.1 655.8C998.4 656.7 997.3 657.4 996.2 657.8C995.2 658.2 993.7 658.5 992.6 658.2C991.6 657.9 990.5 656.8 989.8 655.9C989.1 654.9 988.6 653.7 988.6 652.5C988.5 651.3 988.9 649.8 989.6 649C990.4 648.1 991.7 647.7 992.8 647.4C993.9 647.1 995.2 646.9 996.2 647.1C997.3 647.4 998.7 648.1 999.4 649C1000 649.9 1000.1 651.4 1000.1 652.5Z" stroke-width="2.8" fill="#fff"/>
<path d="M1064 649.5C1063.9 650.9 1062.8 652.3 1061.8 653.4C1060.8 654.4 1059.6 655.3 1058.2 655.8C1056.9 656.2 1055 656.5 1053.7 656.1C1052.4 655.7 1051.1 654.4 1050.3 653.3C1049.4 652.2 1048.7 650.8 1048.7 649.5C1048.7 648.2 1049.5 646.8 1050.3 645.7C1051.1 644.5 1052.2 643.2 1053.6 642.7C1055 642.1 1057 642.1 1058.5 642.5C1059.9 643 1061.6 644 1062.5 645.1C1063.5 646.3 1064.1 648.1 1064 649.5Z" stroke-width="2.8" fill="#fff"/>
<path d="M1117.5 516L1170 514" stroke-width="3.1" fill="none"/>
<path d="M1179 526C1179.4 530.8 1181.2 545.2 1181.5 555C1181.8 564.8 1181.1 580 1181 585" stroke-width="3.1" fill="none"/>
<path d="M1119.7 519.5C1119.7 520.6 1119.7 522 1118.9 522.9C1118.1 523.8 1116.3 524.7 1114.9 525C1113.5 525.2 1111.8 524.8 1110.3 524.5C1108.8 524.2 1107 523.8 1106 523C1105 522.2 1104.2 520.6 1104.3 519.5C1104.4 518.4 1105.7 517.3 1106.6 516.4C1107.6 515.4 1108.6 514.1 1110 513.8C1111.3 513.4 1113.4 513.9 1114.8 514.3C1116.3 514.7 1117.8 515.3 1118.6 516.2C1119.4 517.1 1119.6 518.4 1119.7 519.5Z" stroke-width="2.8" fill="#fff"/>
<path d="M1184.6 517.5C1184.8 519 1183.9 521.1 1182.8 522.2C1181.8 523.3 1179.9 523.9 1178.3 524.3C1176.8 524.7 1175 525 1173.6 524.6C1172.1 524.3 1170.4 523.2 1169.5 522C1168.6 520.8 1168.2 519 1168.2 517.5C1168.3 516 1168.9 514.4 1169.8 513.3C1170.7 512.1 1172.1 511 1173.6 510.5C1175.1 509.9 1177.2 509.5 1178.6 510C1180 510.5 1181 512.1 1182 513.4C1183 514.6 1184.5 516 1184.6 517.5Z" stroke-width="2.8" fill="#fff"/>
<path d="M1187.7 591C1187.6 592.5 1187 594.1 1186.1 595.2C1185.2 596.2 1183.6 596.9 1182.2 597.3C1180.8 597.7 1179.1 598 1177.7 597.7C1176.3 597.3 1174.6 596.4 1173.7 595.3C1172.8 594.2 1172.3 592.4 1172.4 591C1172.5 589.6 1173.4 588.3 1174.3 587.1C1175.1 585.8 1176.1 584.2 1177.5 583.6C1178.8 583.1 1180.9 583.4 1182.5 583.8C1184 584.3 1185.7 585.3 1186.6 586.4C1187.5 587.6 1187.8 589.5 1187.7 591Z" stroke-width="2.8" fill="#fff"/>
<path d="M1125.5 598C1125.5 601.7 1125.4 612 1125.5 620C1125.6 628 1125.9 641.7 1126 646" stroke-width="3.1" fill="none"/>
<path d="M1130.5 591C1130.5 592.2 1130.1 593.8 1129.2 594.7C1128.4 595.7 1126.8 596.3 1125.3 596.8C1123.8 597.3 1121.8 597.9 1120.4 597.6C1119 597.2 1117.6 595.8 1116.8 594.7C1115.9 593.6 1115.5 592.3 1115.5 591C1115.4 589.7 1115.8 588.3 1116.6 587.2C1117.4 586.1 1118.9 584.8 1120.4 584.3C1121.9 583.8 1124.1 583.9 1125.6 584.4C1127.1 584.9 1128.4 586.2 1129.2 587.3C1130 588.4 1130.5 589.8 1130.5 591Z" stroke-width="2.8" fill="#fff"/>
<path d="M1140 653L1175 652.5" stroke-width="3.1" fill="none"/>
<path d="M1139.6 652C1139.5 653.5 1139.7 655.3 1138.9 656.4C1138.1 657.5 1136.1 658.3 1134.5 658.7C1132.9 659.1 1130.9 659.4 1129.4 658.9C1128 658.4 1126.8 657 1126 655.8C1125.1 654.7 1124.7 653.3 1124.6 652C1124.5 650.7 1124.5 648.9 1125.3 647.8C1126.2 646.7 1128.1 645.7 1129.6 645.4C1131.1 645.1 1132.7 645.4 1134.3 645.8C1135.9 646.2 1138.1 646.6 1138.9 647.6C1139.8 648.6 1139.6 650.5 1139.6 652Z" stroke-width="2.8" fill="#fff"/>
<path d="M1187.7 655C1187.7 656.2 1187.4 657.8 1186.6 658.7C1185.8 659.6 1184.2 659.9 1182.9 660.3C1181.6 660.7 1180 661.4 1178.8 661C1177.7 660.7 1176.8 659.3 1176 658.3C1175.2 657.3 1174.1 656.1 1174 655C1174 653.9 1174.9 652.4 1175.7 651.5C1176.5 650.6 1177.8 649.8 1179 649.4C1180.2 649.1 1181.8 648.9 1183.1 649.2C1184.3 649.5 1185.9 650.3 1186.7 651.2C1187.5 652.2 1187.8 653.8 1187.7 655Z" stroke-width="2.8" fill="#fff"/>
<path d="M38.8 145.3L38.8 164.7" stroke-width="2.6" fill="none"/>
<path d="M38.8 145.9C39.8 145.8 43.1 145 44.5 145.7C46 146.4 47.6 148.7 47.7 150.2C47.7 151.6 46.5 153.6 45.1 154.6C43.6 155.6 39.9 155.7 38.8 156" stroke-width="2.6" fill="none"/>
<path d="M41.4 155.6L48.7 164.7" stroke-width="2.6" fill="none"/>
<path d="M41.3 179.2C41.4 180.3 41.3 184.5 41.8 186.1C42.4 187.8 43.4 188.8 44.4 189.1C45.5 189.4 47.2 188.5 48.1 187.9C48.9 187.2 49.4 185.7 49.6 185.3" stroke-width="2.6" fill="none"/>
<path d="M49.3 178.3L50 187L51 195.7" stroke-width="2.6" fill="none"/>
<path d="M41 222.1L41 201.8L51.2 222.1L51.5 201.8" stroke-width="2.6" fill="none"/>
<path d="M52.8 317.3L52.8 333.4" stroke-width="2.6" fill="none"/>
<path d="M52.8 317.8C53.7 317.8 56.9 317 58.3 317.6C59.7 318.2 61.2 320.1 61.3 321.3C61.4 322.6 60.2 324.2 58.8 325C57.4 325.8 53.8 326 52.8 326.2" stroke-width="2.6" fill="none"/>
<path d="M55.3 325.8L62.3 333.4" stroke-width="2.6" fill="none"/>
<path d="M53.9 346.2C54 347.3 53.9 351.5 54.4 353.1C55 354.8 56.1 355.8 57.3 356.1C58.4 356.4 60.3 355.5 61.3 354.9C62.2 354.2 62.7 352.7 63 352.3" stroke-width="2.6" fill="none"/>
<path d="M62.6 345.3L63.3 354L64.5 362.7" stroke-width="2.6" fill="none"/>
<path d="M53.5 388.5L53.5 373.9L62.9 388.5L63.2 373.9" stroke-width="2.6" fill="none"/>
<path d="M282.2 202.3C281.7 202 280.4 200.6 279.1 200.5C277.9 200.5 275.7 201.3 274.8 202.1C274 203 273.6 204.6 274.1 205.6C274.6 206.6 276.4 207.3 277.6 208.2C278.8 209 280.8 209.8 281.3 210.8C281.7 211.9 281.1 213.4 280.4 214.2C279.6 215 277.8 215.8 276.5 215.8C275.2 215.7 273.2 214.3 272.5 214" stroke-width="2.7" fill="none"/>
<path d="M286.2 200.8L295.5 200.4" stroke-width="2.7" fill="none"/>
<path d="M290.8 200.6L289.6 215.7" stroke-width="2.7" fill="none"/>
<path d="M297.6 215.6L303.6 196.4L306.6 215.5" stroke-width="2.7" fill="none"/>
<path d="M300 208.3L305.8 208.3" stroke-width="2.7" fill="none"/>
<path d="M312.1 197.6L310.7 215.5" stroke-width="2.7" fill="none"/>
<path d="M312.1 198.2C312.9 198.1 315.9 197.3 317.1 197.9C318.3 198.6 319.5 200.7 319.5 202C319.5 203.4 318.2 205.3 316.9 206.2C315.5 207.1 312.3 207.3 311.4 207.5" stroke-width="2.7" fill="none"/>
<path d="M313.7 207.1L319.3 215.4" stroke-width="2.7" fill="none"/>
<path d="M324.5 195.3L338.2 194.7" stroke-width="2.7" fill="none"/>
<path d="M331.4 195L329.8 215.3" stroke-width="2.7" fill="none"/>
<path d="M279.8 270.9C279.3 270.4 278 268.2 276.8 268C275.7 267.9 274 268.5 272.9 270.1C271.8 271.7 270.5 275 270.4 277.3C270.4 279.7 271.4 282.8 272.4 284.2C273.4 285.6 275.1 285.9 276.3 285.7C277.6 285.4 279.2 283.2 279.8 282.7" stroke-width="2.9" fill="none"/>
<path d="M283.6 285.3L289.2 267.2L294.8 284.3" stroke-width="2.9" fill="none"/>
<path d="M285.8 278.4L293.1 277.8" stroke-width="2.9" fill="none"/>
<path d="M298.6 265.8L298.6 284.4" stroke-width="2.9" fill="none"/>
<path d="M298.6 266.3C299.4 266.2 302.3 265.1 303.6 265.7C304.9 266.3 306.5 268.2 306.5 269.7C306.6 271.2 305.4 273.5 304 274.6C302.7 275.6 299.5 275.8 298.6 276" stroke-width="2.9" fill="none"/>
<path d="M361.4 269.4C360.7 268.9 359 266.9 357.4 266.8C355.9 266.6 353.6 267 352.1 268.2C350.7 269.4 349 272.1 348.8 274.1C348.7 276 350.2 278.7 351.5 279.9C352.8 281.1 355.1 281.5 356.8 281.4C358.4 281.2 360.6 279.5 361.4 279.2" stroke-width="2.9" fill="none"/>
<path d="M377.9 265.7C377.1 265.4 374.9 263.5 373.1 263.4C371.3 263.4 368.1 264.3 367 265.4C365.9 266.4 365.5 268.5 366.3 269.8C367.1 271 369.9 271.9 371.8 273C373.6 274.1 376.7 275.2 377.5 276.4C378.3 277.7 377.6 279.6 376.5 280.6C375.4 281.7 373 282.6 371.1 282.6C369.1 282.5 366 280.6 364.9 280.3" stroke-width="2.9" fill="none"/>
<path d="M433.9 84.9L433.9 102.1" stroke-width="2.8" fill="none"/>
<path d="M433.9 85.4C435.1 85.5 439.4 85.1 441.1 85.8C442.7 86.4 444 88.1 443.8 89.2C443.7 90.3 442 91.9 440.4 92.6C438.8 93.4 435.2 93.4 434.2 93.5" stroke-width="2.8" fill="none"/>
<path d="M434.2 93.5C435.6 93.5 440.4 92.8 442.5 93.5C444.5 94.2 446.6 96.5 446.6 97.8C446.6 99.1 444.6 100.9 442.5 101.6C440.3 102.3 435.3 102 433.9 102.1" stroke-width="2.8" fill="none"/>
<path d="M435.6 87.5L435.6 100.4" stroke-width="2.8" fill="none"/>
<path d="M437.6 95.2L442.5 99.5" stroke-width="2.8" fill="none"/>
<path d="M450.8 84.5L450.6 100L457.6 99.6" stroke-width="2.9" fill="none"/>
<path d="M462.8 87.3C462.9 88.5 462.8 92.8 463.4 94.5C464.1 96.2 465.3 97.3 466.5 97.6C467.8 97.9 469.8 97 470.9 96.3C471.9 95.6 472.4 94 472.7 93.6" stroke-width="2.8" fill="none"/>
<path d="M472.4 86.4L473.1 95.4L474.4 104.4" stroke-width="2.8" fill="none"/>
<path d="M520.3 84.6L529.7 84.3" stroke-width="2.6" fill="none"/>
<path d="M525 84.5L525 100.7" stroke-width="2.6" fill="none"/>
<path d="M538.8 84.3L538.8 100.7" stroke-width="2.6" fill="none"/>
<path d="M444.4 145.1L448.8 161.2L454.5 149.7L459.6 160.9L464.6 144.5" stroke-width="2.8" fill="none"/>
<path d="M469.2 144.6L469.2 160.8" stroke-width="2.8" fill="none"/>
<path d="M482.4 144.2L482.4 160.4" stroke-width="2.8" fill="none"/>
<path d="M469.2 152.7L482.4 152" stroke-width="2.8" fill="none"/>
<path d="M486.9 144.4L501.6 143.7" stroke-width="2.8" fill="none"/>
<path d="M494.3 144.1L494.3 160.1" stroke-width="2.8" fill="none"/>
<path d="M521.6 150.2L533.6 149.8" stroke-width="2.7" fill="none"/>
<path d="M527.6 150L527.6 167.2" stroke-width="2.7" fill="none"/>
<path d="M536.9 151.9C537.7 151.6 540.1 150.4 541.7 150.3C543.4 150.3 545.8 150.6 546.6 151.6C547.5 152.6 547.8 154.6 547 156.5C546.1 158.3 543.3 161.2 541.7 162.6C540.2 164 537.7 164.9 537.7 164.9C537.7 164.9 540.2 162.8 541.7 162.6C543.2 162.3 544.7 163 546.6 163.4C548.5 163.7 552.1 164.6 553.1 164.9" stroke-width="2.7" fill="none"/>
<path d="M458 212.2L458 230.4" stroke-width="2.8" fill="none"/>
<path d="M458 212.6C459 212.6 462.8 211.8 464.4 212.4C465.9 213 467.3 214.7 467.3 216C467.3 217.3 465.9 219.3 464.4 220.2C462.8 221.1 459 221.1 458 221.3" stroke-width="2.8" fill="none"/>
<path d="M458 221.3C459.2 221.3 463.7 220.8 465.5 221.5C467.4 222.2 469 224.2 469 225.6C469 226.9 467.4 228.9 465.5 229.7C463.7 230.5 459.2 230.3 458 230.4" stroke-width="2.8" fill="none"/>
<path d="M474.3 211.9L474 230.1L483.5 229.3" stroke-width="2.8" fill="none"/>
<path d="M489.1 211.5L488.5 229.7" stroke-width="2.8" fill="none"/>
<path d="M499 212.2L489.1 222.4" stroke-width="2.8" fill="none"/>
<path d="M492 220.5L499.6 229.1" stroke-width="2.8" fill="none"/>
<path d="M529.2 207.7L545 206.8" stroke-width="3.1" fill="none"/>
<path d="M537.1 207.3L535.1 227.5" stroke-width="3.1" fill="none"/>
<path d="M567.3 206.4L556.8 207.3L554.9 215.9" stroke-width="3.1" fill="none"/>
<path d="M554.9 215.9C555.8 215.6 558.6 214 560.4 214.3C562.2 214.6 565.1 216 565.8 217.6C566.4 219.2 565.8 222.2 564.6 223.7C563.4 225.3 560.4 226.7 558.5 227C556.6 227.2 553.8 225.4 552.9 225.1" stroke-width="3.1" fill="none"/>
<path d="M472 283.2L472 301.9" stroke-width="2.8" fill="none"/>
<path d="M472 283.8C473.1 283.7 476.9 282.8 478.6 283.4C480.3 284.1 482.1 286.2 482.2 287.7C482.3 289.1 480.9 291.1 479.2 292C477.5 293 473.2 293.3 472 293.5" stroke-width="2.8" fill="none"/>
<path d="M475 293.1L483.4 301.7" stroke-width="2.8" fill="none"/>
<path d="M499.2 282.7L489.9 283.3L489.9 301.6L499.7 301" stroke-width="2.8" fill="none"/>
<path d="M489.9 292.2L497.2 291.7" stroke-width="2.8" fill="none"/>
<path d="M506.5 282.5L506.5 301.2" stroke-width="2.8" fill="none"/>
<path d="M505.8 282.9C507 283 510.8 282.3 512.9 283.3C514.9 284.3 517.1 286.8 518 288.8C518.8 290.8 518.8 293.4 518 295.3C517.1 297.3 514.9 299.4 512.9 300.3C510.8 301.3 507 301.1 505.8 301.3" stroke-width="2.8" fill="none"/>
<path d="M540.3 282.4L553.6 281.3" stroke-width="2.6" fill="none"/>
<path d="M541.6 285.6L552.3 284.5" stroke-width="2.6" fill="none"/>
<path d="M547 281.7L547 302.7" stroke-width="2.6" fill="none"/>
<path d="M565.4 291.4C564.2 290.4 561.8 289.2 561.3 287.7C560.8 286.2 561.6 283.4 562.5 282.4C563.3 281.3 565.4 280.8 566.5 281.3C567.7 281.8 569.3 283.8 569.5 285.2C569.6 286.5 568.8 288 567.7 289.4C566.6 290.9 564.3 292.2 563.1 293.7C561.9 295.2 560.4 296.9 560.5 298.4C560.6 299.9 562.3 302.1 563.6 302.7C564.9 303.3 567.2 302.9 568.3 302.1C569.4 301.2 570.3 298.7 570.3 297.4C570.3 296 569.1 294.7 568.3 293.7C567.5 292.7 566.5 292.4 565.4 291.4Z" stroke-width="2.6" fill="none"/>
<path d="M468.7 347.2C469.9 347.1 471.4 347.6 472.4 348.4C473.4 349.2 474.3 350.7 474.7 352C475.1 353.4 475.1 355.2 474.7 356.6C474.3 358 473.4 359.5 472.4 360.4C471.4 361.3 469.9 361.9 468.7 362C467.5 362.1 466 361.6 465 360.8C464 360 463.1 358.5 462.7 357.2C462.3 355.8 462.3 354 462.7 352.6C463.1 351.2 464 349.7 465 348.8C466 347.9 467.5 347.3 468.7 347.2Z" stroke-width="2.8" fill="none"/>
<path d="M481.6 342.4L481.6 361.6" stroke-width="2.8" fill="none"/>
<path d="M481.6 342.9C482.7 342.8 486.4 341.8 488.1 342.4C489.7 343 491.5 345.2 491.6 346.7C491.7 348.1 490.3 350.2 488.7 351.2C487 352.3 482.8 352.6 481.6 352.9" stroke-width="2.8" fill="none"/>
<path d="M484.6 352.4L492.8 361" stroke-width="2.8" fill="none"/>
<path d="M499.1 360.9L499.1 341.7L510 360.3L510.4 341.1" stroke-width="2.8" fill="none"/>
<path d="M539.3 340.4L555.2 339.6" stroke-width="2.6" fill="none"/>
<path d="M547.3 340L547.3 357.2" stroke-width="2.6" fill="none"/>
<path d="M562.4 340.9C563.5 340.6 566.8 339.1 568.7 339.3C570.6 339.5 573.3 341.1 573.6 342.3C574 343.5 572.1 345.6 570.8 346.5C569.5 347.5 566.7 347.8 565.9 348.1" stroke-width="2.6" fill="none"/>
<path d="M565.9 348.1C567.1 348.3 571.4 348.4 572.9 349.3C574.4 350.1 575.6 351.8 575 353C574.4 354.3 571.6 356.3 569.4 356.7C567.2 357 563.2 355.4 562 355.2" stroke-width="2.6" fill="none"/>
<path d="M460.9 398.9L467.6 408.2L474.3 398.9" stroke-width="2.8" fill="none"/>
<path d="M467.6 408.2L466.9 417.6" stroke-width="2.8" fill="none"/>
<path d="M491.7 398.9L481.2 399.3L481.2 417.6L492.2 417.2" stroke-width="2.8" fill="none"/>
<path d="M481.2 408.2L489.3 407.9" stroke-width="2.8" fill="none"/>
<path d="M499.5 398.9L499.2 417.6L509.3 417" stroke-width="2.8" fill="none"/>
<path d="M542.3 396.2L558.5 395.8" stroke-width="2.6" fill="none"/>
<path d="M550.4 396L550.4 414.7" stroke-width="2.6" fill="none"/>
<path d="M575.9 414.7L575.9 395.8L565 408.7L580.2 408.3" stroke-width="2.6" fill="none"/>
<path d="M466.9 446.4C466.3 446 464.8 444 463.4 444.1C462 444.1 459.9 444.9 458.7 446.6C457.6 448.3 456.5 451.8 456.4 454.3C456.3 456.9 457.2 460.3 458.2 462C459.1 463.6 460.9 464.3 462.2 464.3C463.6 464.3 465.5 463.1 466.3 461.8C467.1 460.4 467 457 467.1 456.1" stroke-width="2.8" fill="none"/>
<path d="M467.1 456.1L462.2 456.2" stroke-width="2.8" fill="none"/>
<path d="M474.5 443.9L474.5 464.1" stroke-width="2.8" fill="none"/>
<path d="M474.5 444.5C475.5 444.4 478.9 443.4 480.5 444.1C482 444.8 483.7 447.1 483.7 448.7C483.8 450.2 482.6 452.4 481 453.4C479.5 454.5 475.6 454.7 474.5 455" stroke-width="2.8" fill="none"/>
<path d="M477.2 454.5L484.8 463.8" stroke-width="2.8" fill="none"/>
<path d="M490.9 463.7L490.9 443.5L501.1 463.5L501.4 443.3" stroke-width="2.8" fill="none"/>
<path d="M561.8 441.5C561.2 441.1 559.6 439.2 558.3 439.3C556.9 439.4 554.8 440.3 553.6 442.1C552.5 443.9 551.4 447.5 551.3 450.1C551.2 452.6 552.1 456 553 457.7C554 459.3 555.8 459.9 557.1 459.8C558.5 459.7 560.4 458.5 561.2 457C562 455.6 561.9 452.2 562 451.3" stroke-width="2.6" fill="none"/>
<path d="M562 451.3L557.1 451.6" stroke-width="2.6" fill="none"/>
<path d="M568.8 459.2L568.8 443.4L578.9 458.4L579.2 442.6" stroke-width="2.6" fill="none"/>
<path d="M585.6 441.2L585.6 458.1" stroke-width="2.6" fill="none"/>
<path d="M585 441.5C586.1 441.5 589.6 440.8 591.5 441.6C593.3 442.3 595.3 444.5 596.1 446.3C596.9 448.1 596.9 450.4 596.1 452.2C595.3 454 593.3 456 591.5 457C589.6 458 586.1 458 585 458.1" stroke-width="2.6" fill="none"/>
<path d="M192.6 457.5L190.8 472.6" stroke-width="2.5" fill="none"/>
<path d="M198.3 465.7L200.9 464.8" stroke-width="2.5" fill="none"/>
<path d="M208.8 458.3C209.7 458.1 212.6 456.8 214 457C215.5 457.2 217.5 458.5 217.7 459.6C217.8 460.6 216.1 462.4 215 463.3C213.8 464.1 211.5 464.4 210.9 464.6" stroke-width="2.5" fill="none"/>
<path d="M210.9 464.6C211.8 464.8 215.2 464.9 216.4 465.6C217.5 466.4 218.3 467.8 217.7 468.9C217.1 470 214.6 471.8 212.8 472.1C211 472.4 207.9 471 207 470.7" stroke-width="2.5" fill="none"/>
<path d="M231.7 456.6C232.8 456.6 234 457.1 234.8 458C235.6 458.8 236.2 460.3 236.4 461.7C236.6 463.1 236.4 464.9 235.9 466.3C235.3 467.8 234.4 469.3 233.3 470.2C232.3 471.1 231 471.7 229.8 471.7C228.7 471.7 227.5 471.2 226.7 470.4C225.9 469.5 225.3 468 225.1 466.7C224.9 465.3 225.1 463.4 225.6 462C226.2 460.6 227.2 459 228.2 458.2C229.2 457.3 230.5 456.6 231.7 456.6Z" stroke-width="2.5" fill="none"/>
<path d="M243 464.8L246.2 463.9" stroke-width="2.5" fill="none"/>
<path d="M254.3 456.3L252.5 471.4" stroke-width="2.5" fill="none"/>
<path d="M270.7 455.8L262.6 456.5L261 462.8" stroke-width="2.5" fill="none"/>
<path d="M261 462.8C261.7 462.6 263.9 461.4 265.3 461.6C266.7 461.9 268.9 462.9 269.4 464.1C269.9 465.2 269.4 467.5 268.5 468.6C267.5 469.8 265.2 470.9 263.7 471C262.1 471.2 260 469.9 259.3 469.6" stroke-width="2.5" fill="none"/>
<path d="M299.1 456.2C298.5 455.9 296.9 454.4 295.4 454.4C293.9 454.4 291.2 455.2 290.2 456.1C289.1 457 288.6 458.8 289.2 459.8C289.7 460.9 291.9 461.5 293.3 462.4C294.8 463.3 297.2 464.1 297.7 465.2C298.2 466.2 297.5 467.8 296.5 468.7C295.5 469.6 293.4 470.4 291.8 470.4C290.2 470.4 287.8 468.9 287 468.7" stroke-width="2.5" fill="none"/>
<path d="M304.4 470.2L312.3 454L316.4 469.8" stroke-width="2.5" fill="none"/>
<path d="M307.5 464.1L315.4 463.8" stroke-width="2.5" fill="none"/>
<path d="M334.3 453.6L325.2 454.3L323.3 469.8" stroke-width="2.5" fill="none"/>
<path d="M324.3 461.8L331.5 461.1" stroke-width="2.5" fill="none"/>
<path d="M338.8 469.4C339.7 469.4 343.7 469.7 344.2 469C344.6 468.4 341.6 466.6 341.6 465.5C341.6 464.4 343.1 463.1 344.2 462.5C345.3 461.9 347 461.6 348.1 461.9C349.2 462.1 350.6 462.9 350.9 463.8C351.2 464.6 350.2 466.3 349.7 467.2C349.2 468.1 347.3 468.7 348 468.9C348.7 469.1 353.1 468.4 354.2 468.3" stroke-width="2.5" fill="none"/>
<path d="M985.2 11C986.3 11 987.6 11.4 988.5 12.1C989.4 12.7 990.2 13.9 990.5 14.9C990.9 16 990.9 17.3 990.5 18.4C990.2 19.4 989.4 20.6 988.5 21.2C987.6 21.9 986.3 22.3 985.2 22.3C984.1 22.3 982.8 21.9 981.9 21.2C981 20.6 980.2 19.4 979.9 18.4C979.5 17.3 979.5 16 979.9 14.9C980.2 13.9 981 12.7 981.9 12.1C982.8 11.4 984.1 11 985.2 11Z" stroke-width="2.4" fill="none"/>
<path d="M1007.7 5.3L999.6 5.9L997.7 24.5" stroke-width="2.6" fill="none"/>
<path d="M998.7 14.9L1005.1 14.3" stroke-width="2.6" fill="none"/>
<path d="M1022.4 4.3L1012.7 4.9L1010.8 23.7" stroke-width="2.6" fill="none"/>
<path d="M1011.8 14L1019.5 13.4" stroke-width="2.6" fill="none"/>
<path d="M945.4 40.4L938.1 42L938.1 55.6" stroke-width="2.4" fill="none"/>
<path d="M938.1 48.6L943.9 47.3" stroke-width="2.4" fill="none"/>
<path d="M950.3 39.8L953.3 53.4L957.1 43.1L960.4 52.4L963.8 38" stroke-width="2.4" fill="none"/>
<path d="M969.2 37.8L969.2 51.8" stroke-width="2.4" fill="none"/>
<path d="M968.7 38.2C969.6 38.1 972.5 37.3 974 37.8C975.5 38.4 977.2 40 977.8 41.5C978.5 42.9 978.5 44.9 977.8 46.4C977.2 47.9 975.5 49.6 974 50.6C972.5 51.5 969.6 51.7 968.7 51.9" stroke-width="2.4" fill="none"/>
<path d="M1037.8 30.9L1037.8 52.3" stroke-width="2.6" fill="none"/>
<path d="M1037.8 31.5C1038.9 31.4 1042.3 30.2 1043.9 30.9C1045.4 31.6 1047.1 34 1047.2 35.6C1047.3 37.3 1046 39.5 1044.4 40.7C1042.9 41.9 1038.9 42.3 1037.8 42.7" stroke-width="2.6" fill="none"/>
<path d="M1040.6 42.1L1048.3 51.6" stroke-width="2.6" fill="none"/>
<path d="M1062.9 31.8L1054.4 32.8L1054.4 51.4L1063.4 50.4" stroke-width="2.6" fill="none"/>
<path d="M1054.4 41.9L1061 41.1" stroke-width="2.6" fill="none"/>
<path d="M1069 26.3L1074.2 50.2L1080.7 25.5" stroke-width="2.6" fill="none"/>
<path d="M1098.6 114.9L1098.6 133.3" stroke-width="2.6" fill="none"/>
<path d="M1098.6 115.3C1099.4 115.2 1102.4 114.3 1103.7 114.8C1104.9 115.4 1106 117 1106 118.3C1106 119.7 1104.9 121.8 1103.7 122.8C1102.4 123.7 1099.4 123.9 1098.6 124.1" stroke-width="2.6" fill="none"/>
<path d="M1098.6 124.1C1099.6 124.1 1103.1 123.3 1104.6 124C1106.1 124.6 1107.4 126.6 1107.4 128C1107.4 129.4 1106.1 131.4 1104.6 132.3C1103.1 133.1 1099.6 133.1 1098.6 133.3" stroke-width="2.6" fill="none"/>
<path d="M1113.4 114L1113.2 132.4L1120.6 131.2" stroke-width="2.6" fill="none"/>
<path d="M1126.5 113.1L1126.5 131.5" stroke-width="2.6" fill="none"/>
<path d="M1134.8 112.5L1126.5 124.2L1135.3 130.8" stroke-width="2.6" fill="none"/>
<path d="M1186 109.3L1180.3 124.7L1189.5 124.2" stroke-width="2.6" fill="none"/>
<path d="M1201.5 106L1201.5 120.7" stroke-width="2.6" fill="none"/>
<path d="M1264.8 176.7L1264.8 204.6" stroke-width="2.2" fill="none"/>
<path d="M1275.8 188C1276.5 187.1 1277.9 183.7 1279.5 182.8C1281.1 181.9 1284.1 181.8 1285.5 182.8C1286.8 183.8 1288.2 186.3 1287.7 188.7C1287.2 191.1 1284.6 194.7 1282.5 197.4C1280.4 200.2 1276.3 203.9 1275.1 205.2" stroke-width="2.2" fill="none"/>
<path d="M1275.1 205.2L1289.9 204.5" stroke-width="2.2" fill="none"/>
<path d="M1302 180.1C1303.9 180.1 1306.2 180.9 1307.8 182.1C1309.4 183.4 1310.8 185.5 1311.4 187.5C1312 189.4 1312 192.1 1311.4 194C1310.8 196 1309.4 198.1 1307.8 199.4C1306.2 200.6 1303.9 201.4 1302 201.4C1300.1 201.4 1297.8 200.6 1296.2 199.4C1294.6 198.1 1293.2 196 1292.6 194C1292 192.1 1292 189.4 1292.6 187.5C1293.2 185.5 1294.6 183.4 1296.2 182.1C1297.8 180.9 1300.1 180.1 1302 180.1Z" stroke-width="2.2" fill="none"/>
<path d="M1314.2 168.2L1324.7 203.4L1337.5 168.2" stroke-width="2.4" fill="none"/>
<path d="M1102.1 297.7L1105.5 311.3L1109.7 301.2L1113.5 310.6L1117.4 296.4" stroke-width="2.6" fill="none"/>
<path d="M1123 296.4L1123 310.3" stroke-width="2.6" fill="none"/>
<path d="M1132.9 295.5L1132.9 309.4" stroke-width="2.6" fill="none"/>
<path d="M1123 303.3L1132.9 302.2" stroke-width="2.6" fill="none"/>
<path d="M1138.5 295.6L1149.5 294.3" stroke-width="2.6" fill="none"/>
<path d="M1144 294.9L1144 308.7" stroke-width="2.6" fill="none"/>
<path d="M1191.9 287.1L1191.6 299.1L1202.7 298.7" stroke-width="2.6" fill="none"/>
<path d="M1209.9 290.1C1210.5 289.7 1211.9 287.9 1213.5 287.5C1215.1 287 1218 287 1219.3 287.5C1220.7 288 1222 289.2 1221.5 290.5C1221 291.7 1218.5 293.5 1216.4 294.9C1214.3 296.3 1210.3 298.2 1209.1 298.9" stroke-width="2.6" fill="none"/>
<path d="M1209.1 298.9L1223.7 298.5" stroke-width="2.6" fill="none"/>
<path d="M1199.9 406.2C1199.3 405.9 1197.6 403.9 1196.1 404C1194.7 404.1 1192.4 405.1 1191.1 407.1C1189.9 409 1188.7 412.8 1188.6 415.6C1188.5 418.3 1189.4 421.9 1190.5 423.6C1191.5 425.3 1193.4 426 1194.9 425.8C1196.4 425.7 1198.4 424.3 1199.3 422.8C1200.2 421.3 1200 417.7 1200.2 416.6" stroke-width="2.6" fill="none"/>
<path d="M1200.2 416.6L1194.9 417.1" stroke-width="2.6" fill="none"/>
<path d="M1207.2 425L1207.2 403.3L1218.1 423.9L1218.5 402.2" stroke-width="2.6" fill="none"/>
<path d="M1225.2 401.8L1225.2 423.5" stroke-width="2.6" fill="none"/>
<path d="M1224.5 402.3C1225.7 402.3 1229.5 401.3 1231.4 402.3C1233.4 403.3 1235.6 406.1 1236.5 408.4C1237.3 410.6 1237.3 413.7 1236.5 416C1235.6 418.2 1233.4 420.8 1231.4 422.1C1229.5 423.3 1225.7 423.3 1224.5 423.6" stroke-width="2.6" fill="none"/>
<path d="M868.3 481.7L858.3 483.4L858.3 504.1" stroke-width="2.6" fill="none"/>
<path d="M858.3 493.4L866.2 492" stroke-width="2.6" fill="none"/>
<path d="M874.1 481.1L878 502.2L883 486.7L887.5 501.3L891.9 479.5" stroke-width="2.6" fill="none"/>
<path d="M898.4 479.4L898.4 500.8" stroke-width="2.6" fill="none"/>
<path d="M897.8 479.9C899 479.8 902.8 478.8 904.9 479.8C906.9 480.8 909.2 483.5 910.1 485.7C910.9 488 910.9 491 910.1 493.2C909.2 495.5 906.9 498 904.9 499.3C902.8 500.6 899 500.6 897.8 500.8" stroke-width="2.6" fill="none"/>
<path d="M992.8 481.1C994.2 481.1 996 481.7 997.2 482.6C998.4 483.5 999.4 485.1 999.9 486.6C1000.3 488.1 1000.3 490.1 999.9 491.6C999.4 493.1 998.4 494.7 997.2 495.7C996 496.6 994.2 497.2 992.8 497.2C991.3 497.3 989.6 496.7 988.4 495.7C987.2 494.8 986.1 493.2 985.7 491.8C985.2 490.3 985.2 488.3 985.7 486.8C986.1 485.3 987.2 483.7 988.4 482.7C989.6 481.8 991.3 481.2 992.8 481.1Z" stroke-width="2.6" fill="none"/>
<path d="M1018.7 480.9L1007.2 481.5L1007.2 497.1" stroke-width="2.6" fill="none"/>
<path d="M1007.2 489.1L1016.3 488.5" stroke-width="2.6" fill="none"/>
<path d="M1037.2 480.7L1025.6 481.3L1025.6 497" stroke-width="2.6" fill="none"/>
<path d="M1025.6 488.9L1034.8 488.3" stroke-width="2.6" fill="none"/>
<path d="M1118.5 476L1118.5 491.2" stroke-width="2.6" fill="none"/>
<path d="M1118.5 476.4C1119.8 476.4 1124.2 475.5 1126.2 476C1128.2 476.4 1130.3 478.1 1130.5 479.3C1130.6 480.4 1128.9 482.1 1126.9 482.9C1125 483.8 1119.9 484.1 1118.5 484.3" stroke-width="2.6" fill="none"/>
<path d="M1122 483.9L1131.9 490.6" stroke-width="2.6" fill="none"/>
<path d="M1149.8 476.6L1138.8 477.3L1138.8 490.5L1150.4 489.7" stroke-width="2.6" fill="none"/>
<path d="M1138.8 483.8L1147.3 483.1" stroke-width="2.6" fill="none"/>
<path d="M1156.7 465.7L1163.5 489.5L1171.7 465.1" stroke-width="2.6" fill="none"/>
<path d="M1262.7 466.5L1281.6 465.1" stroke-width="2.6" fill="none"/>
<path d="M1265.4 466.5L1266 483.5" stroke-width="2.6" fill="none"/>
<path d="M1266 475.3L1278.2 473.9" stroke-width="2.4" fill="none"/>
<path d="M1283 472.6C1283.1 474 1282.6 479.2 1283.6 480.7C1284.6 482.1 1287.4 482.6 1289 481.3C1290.6 480.1 1292.3 474.6 1293 473.2" stroke-width="2.3" fill="none"/>
<path d="M1293 473.2L1294.4 482" stroke-width="2.3" fill="none"/>
<path d="M1298.5 471.2L1299 482" stroke-width="2.3" fill="none"/>
<path d="M1299 475.3C1299.8 474.6 1302.4 471.6 1303.9 471.2C1305.4 470.8 1307.3 472.4 1308 472.6" stroke-width="2.3" fill="none"/>
<path d="M1310.6 471.9L1310.6 481.3" stroke-width="2.3" fill="none"/>
<path d="M1310.6 475.3C1311.5 474.6 1314.2 471.4 1316 471.2C1317.8 471 1320.3 472.2 1321.4 473.9C1322.5 475.6 1322.6 480.1 1322.8 481.3" stroke-width="2.3" fill="none"/>
<path d="M1337.6 472.6C1336.5 472.5 1332.7 471.1 1330.9 471.9C1329.1 472.7 1326.6 475.7 1326.8 477.3C1327 478.9 1330.2 480.9 1332.2 481.3C1334.2 481.8 1337.9 480.2 1339 480" stroke-width="2.3" fill="none"/>
<path d="M1351 471.9C1350.1 471.8 1347.2 470.4 1345.7 471.2C1344.2 472 1341.7 474.9 1341.7 476.6C1341.7 478.3 1343.9 480.7 1345.7 481.3C1347.5 481.9 1351.4 480.2 1352.5 480" stroke-width="2.3" fill="none"/>
<path d="M1357.9 476.6C1359.7 475.9 1367.6 474.3 1368.7 472.6C1369.8 470.9 1366.4 466.3 1364.6 466.5C1362.8 466.7 1358.4 471.4 1357.9 473.9C1357.5 476.4 1358.8 480.4 1361.9 481.3C1365.1 482.2 1371.8 480.8 1376.8 479.3C1381.8 477.9 1389.1 473.7 1391.6 472.6" stroke-width="2.3" fill="none"/>
<path d="M1247.2 498.2L1246.5 516.4" stroke-width="2.5" fill="none"/>
<path d="M1245 498.2C1246.7 498.4 1252.9 498 1255.3 499.6C1257.7 501.2 1259.3 505.2 1259.3 507.7C1259.3 510.2 1257.7 512.9 1255.3 514.4C1252.9 515.9 1246.7 516.1 1245 516.4" stroke-width="2.5" fill="none"/>
<path d="M1262 503.6L1262.7 514.4" stroke-width="2.3" fill="none"/>
<path d="M1262.7 507.7C1263.4 507 1265.4 504.1 1266.7 503.6C1268 503.2 1270.1 504.8 1270.8 505" stroke-width="2.3" fill="none"/>
<path d="M1274.2 504.3C1274.2 505.6 1273.4 510.8 1274.2 512.4C1275 514 1277.3 514.7 1278.9 513.7C1280.5 512.7 1282.8 507.5 1283.6 506.3" stroke-width="2.3" fill="none"/>
<path d="M1283.6 506.3L1284.3 514.4" stroke-width="2.3" fill="none"/>
<path d="M1288.3 505L1288.3 514.4" stroke-width="2.3" fill="none"/>
<path d="M1288.3 508.3C1289.1 507.6 1291.5 504.5 1293 504.3C1294.5 504.1 1296.3 505.3 1297.1 507C1297.9 508.7 1297.7 513.2 1297.8 514.4" stroke-width="2.3" fill="none"/>
<path d="M1297.8 508.3C1298.6 507.8 1301 505.1 1302.5 505C1304 504.9 1305.7 506.1 1306.6 507.7C1307.5 509.3 1307.8 513.3 1308 514.4" stroke-width="2.3" fill="none"/>
<path d="M1340.3 495.5C1338.5 495.3 1332.4 493.5 1329.5 494.2C1326.6 494.9 1322.3 497.8 1322.8 499.6C1323.2 501.4 1329.3 503.2 1332.2 505C1335.1 506.8 1340.3 508.7 1340.3 510.4C1340.3 512.1 1335.5 514.4 1332.2 515.1C1329 515.8 1322.7 514.5 1320.8 514.4" stroke-width="2.5" fill="none"/>
<path d="M1343 506.3L1347 514.4L1352.5 508.3L1356.5 514.4L1361.9 505.6" stroke-width="2.3" fill="none"/>
<path d="M1368 510.5L1368.6 514.5" stroke-width="2.6" fill="none"/>
<path d="M1376.8 478.6L1378.5 497L1380.2 514.4" stroke-width="2.5" fill="none"/>
<path d="M1375.5 509L1386 507.5" stroke-width="2.3" fill="none"/>
<path d="M1400.4 503C1399.2 502.9 1395.2 501.4 1393 502.3C1390.8 503.2 1387.2 506.3 1387 508.3C1386.8 510.3 1389.3 513.7 1391.6 514.4C1393.9 515.1 1399.4 512.7 1401 512.4" stroke-width="2.3" fill="none"/>
<path d="M1401.8 479.3L1405.2 511.7" stroke-width="2.5" fill="none"/>
<path d="M1405.2 507.7C1406.3 506.6 1410 501.3 1412 500.9C1414 500.4 1415.6 503.4 1417.3 505C1419 506.6 1421.2 509.5 1422 510.4" stroke-width="2.3" fill="none"/>
<path d="M1267.1 537.3L1255.1 537.8L1253.9 545.2" stroke-width="3" fill="none"/>
<path d="M1253.9 545.2C1254.9 545 1258 543.7 1260.1 543.9C1262.2 544.2 1265.7 545.6 1266.7 546.9C1267.6 548.3 1267.2 550.9 1266 552.2C1264.8 553.5 1261.6 554.7 1259.3 554.8C1257.1 554.9 1253.7 553.3 1252.6 553" stroke-width="3" fill="none"/>
<path d="M1279.2 546.9C1277.5 546.1 1274.1 545.1 1273.4 543.8C1272.7 542.5 1273.8 540.1 1275.1 539.2C1276.3 538.3 1279.2 537.9 1280.9 538.3C1282.5 538.7 1284.7 540.4 1285 541.6C1285.3 542.8 1284 544.1 1282.5 545.3C1281 546.5 1277.6 547.7 1275.9 549C1274.2 550.3 1272.1 551.7 1272.2 553C1272.4 554.3 1274.9 556.2 1276.7 556.7C1278.6 557.2 1281.8 556.9 1283.3 556.1C1284.9 555.4 1286.2 553.3 1286.2 552.1C1286.2 550.9 1284.5 549.8 1283.3 549C1282.2 548.1 1280.9 547.8 1279.2 546.9Z" stroke-width="3" fill="none"/>
<path d="M1295 534.5L1295 557.5" stroke-width="3" fill="none"/>
<path d="M1295 535.2C1296.4 535.2 1301.3 534.1 1303.6 535C1305.8 535.8 1308.1 538.5 1308.2 540.2C1308.4 542 1306.5 544.4 1304.3 545.5C1302.1 546.7 1296.5 546.9 1295 547.1" stroke-width="3" fill="none"/>
<path d="M1298.9 546.7L1309.8 557.5" stroke-width="3" fill="none"/>
<path d="M1320.4 534.4C1321.8 534.1 1326.5 532.3 1329.1 532.7C1331.6 533.1 1335.3 535 1335.8 536.5C1336.3 538 1333.7 540.5 1331.9 541.6C1330.2 542.7 1326.3 543 1325.2 543.3" stroke-width="3" fill="none"/>
<path d="M1325.2 543.3C1326.8 543.6 1332.7 543.9 1334.8 545C1336.9 546.1 1338.5 548.2 1337.7 549.7C1336.9 551.1 1333 553.5 1330 553.9C1327 554.3 1321.5 552.1 1319.8 551.8" stroke-width="3" fill="none"/>
<path d="M1344.4 540.1C1345.2 539.4 1347 536.7 1349 536.1C1351.1 535.4 1354.8 535.3 1356.5 536.1C1358.1 536.8 1359.8 538.8 1359.2 540.7C1358.6 542.6 1355.4 545.3 1352.8 547.5C1350.1 549.6 1345 552.5 1343.5 553.5" stroke-width="3" fill="none"/>
<path d="M1343.5 553.5L1362 553" stroke-width="3" fill="none"/>
<path d="M1369.5 537L1386.2 536.4L1375.3 555.7" stroke-width="3" fill="none"/>
<path d="M1392 535L1415 534.5" stroke-width="3" fill="none"/>
<path d="M1403.5 534.8L1403.5 561.3" stroke-width="3" fill="none"/>
<path d="M1260.7 583.6L1260.7 597.8" stroke-width="2.5" fill="none"/>
<circle cx="1266" cy="598.5" r="1.6" fill="#000" stroke="none"/>
<path d="M1288.7 580.9L1274.1 581.4L1272.6 588.9" stroke-width="2.5" fill="none"/>
<path d="M1272.6 588.9C1273.8 588.7 1277.6 587.4 1280.2 587.7C1282.7 588 1286.9 589.3 1288.1 590.7C1289.3 592.1 1288.9 594.7 1287.4 596.1C1285.9 597.4 1281.9 598.6 1279.2 598.8C1276.5 598.9 1272.4 597.3 1271 597" stroke-width="2.5" fill="none"/>
<path d="M1300.7 580.9L1300.7 597" stroke-width="2.5" fill="none"/>
<path d="M1311.7 580.9L1311.7 597" stroke-width="2.5" fill="none"/>
<path d="M1300.7 588.9L1311.7 588.6" stroke-width="2.5" fill="none"/>
<path d="M1316.8 577.1L1316.8 597" stroke-width="2.5" fill="none"/>
<path d="M1316.8 577.7C1317.8 577.7 1321.4 576.8 1323.1 577.5C1324.7 578.3 1326.7 580.5 1326.8 582.1C1326.8 583.7 1325.3 586.1 1323.6 587C1321.9 588 1317.9 587.9 1316.8 588" stroke-width="2.5" fill="none"/>
<path d="M1347.6 584.4C1348.5 584.4 1349.5 584.7 1350.2 585.3C1350.9 585.8 1351.5 586.8 1351.8 587.7C1352 588.6 1352 589.7 1351.8 590.6C1351.5 591.5 1350.9 592.4 1350.2 593C1349.5 593.5 1348.5 593.9 1347.6 593.9C1346.7 593.9 1345.7 593.5 1345 593C1344.3 592.4 1343.7 591.5 1343.4 590.6C1343.2 589.7 1343.2 588.6 1343.4 587.7C1343.7 586.8 1344.3 585.8 1345 585.3C1345.7 584.7 1346.7 584.4 1347.6 584.4Z" stroke-width="2.3" fill="none"/>
<path d="M1352 584.4C1352.1 586 1351.7 592.5 1352.4 593.9C1353.1 595.3 1355.3 593.9 1356.4 592.7C1357.4 591.5 1358.9 589.1 1358.5 586.8C1358.2 584.4 1356.2 580.2 1354.2 578.4C1352.2 576.6 1349.1 575.7 1346.5 576C1344 576.4 1340.5 578.6 1338.8 580.8C1337.2 583 1336.5 586.4 1336.7 589.1C1336.8 591.9 1338.1 595.7 1339.9 597.5C1341.8 599.3 1345 599.7 1347.6 599.9C1350.2 600 1354 598.9 1355.3 598.7" stroke-width="2.3" fill="none"/>
<path d="M1373.8 579L1373.8 597" stroke-width="2.5" fill="none"/>
<path d="M1378.3 586.2C1378.7 585.7 1379.8 583.6 1380.9 583.1C1382 582.6 1384.1 582.5 1385.1 583.1C1386.1 583.7 1387 585.2 1386.7 586.7C1386.3 588.1 1384.5 590.3 1383 591.9C1381.5 593.6 1378.6 595.9 1377.8 596.7" stroke-width="2.5" fill="none"/>
<path d="M1377.8 596.7L1388.2 596.2" stroke-width="2.5" fill="none"/>
<path d="M1396 582.6C1397.1 582.6 1398.3 583.1 1399.2 583.8C1400 584.5 1400.8 585.8 1401.1 586.9C1401.4 588.1 1401.4 589.6 1401.1 590.8C1400.8 591.9 1400 593.2 1399.2 593.9C1398.3 594.6 1397.1 595 1396 595C1395 595 1393.8 594.6 1392.9 593.9C1392.1 593.2 1391.3 591.9 1391 590.8C1390.7 589.6 1390.7 588.1 1391 586.9C1391.3 585.8 1392.1 584.5 1392.9 583.8C1393.8 583.1 1395 582.6 1396 582.6Z" stroke-width="2.5" fill="none"/>
<path d="M1403.8 569.6L1413.2 596L1424.5 569.6" stroke-width="2.5" fill="none"/>
<path d="M1271.4 617.2C1272 616.5 1273.5 613.7 1275.2 613C1276.8 612.3 1279.8 612.2 1281.2 613C1282.6 613.8 1284 615.8 1283.5 617.7C1283 619.7 1280.3 622.5 1278.2 624.7C1276.1 626.9 1271.9 629.9 1270.7 631" stroke-width="2.5" fill="none"/>
<path d="M1270.7 631L1285.8 630.4" stroke-width="2.5" fill="none"/>
<path d="M1296.1 612.5L1296.1 630.5" stroke-width="2.5" fill="none"/>
<path d="M1307 612.5L1307 630.5" stroke-width="2.5" fill="none"/>
<path d="M1296.1 621.5L1307 621.1" stroke-width="2.5" fill="none"/>
<path d="M1312.1 613.5L1312.1 630.5" stroke-width="2.5" fill="none"/>
<path d="M1312.1 614C1313.1 613.9 1316.4 613.2 1317.9 613.8C1319.4 614.4 1321.2 616.3 1321.2 617.7C1321.3 619.1 1319.9 621.1 1318.4 622C1316.9 622.8 1313.2 622.7 1312.1 622.8" stroke-width="2.5" fill="none"/>
<path d="M1343.9 620.5C1345 620.5 1346.3 620.9 1347.1 621.5C1348 622.2 1348.8 623.3 1349.1 624.4C1349.5 625.4 1349.5 626.8 1349.1 627.9C1348.8 628.9 1348 630 1347.1 630.7C1346.3 631.3 1345 631.8 1343.9 631.8C1342.8 631.8 1341.5 631.3 1340.7 630.7C1339.8 630 1339 628.9 1338.7 627.9C1338.3 626.8 1338.3 625.4 1338.7 624.4C1339 623.3 1339.8 622.2 1340.7 621.5C1341.5 620.9 1342.8 620.5 1343.9 620.5Z" stroke-width="2.3" fill="none"/>
<path d="M1349.4 620.5C1349.5 622.3 1349 630.1 1349.9 631.8C1350.9 633.4 1353.6 631.8 1354.9 630.4C1356.2 628.9 1358.1 626.1 1357.6 623.3C1357.2 620.5 1354.7 615.5 1352.1 613.4C1349.6 611.3 1345.7 610.1 1342.5 610.5C1339.3 611 1335 613.6 1332.9 616.2C1330.8 618.8 1329.9 622.8 1330.2 626.1C1330.4 629.4 1332 633.9 1334.3 636C1336.6 638.1 1340.7 638.6 1343.9 638.9C1347.1 639.1 1351.9 637.7 1353.5 637.4" stroke-width="2.3" fill="none"/>
<path d="M1375 617.9C1375.7 617.3 1377.5 614.6 1379.5 614C1381.4 613.3 1385 613.2 1386.6 614C1388.3 614.7 1389.9 616.6 1389.3 618.5C1388.8 620.3 1385.6 623 1383 625.1C1380.5 627.2 1375.5 630 1374 631" stroke-width="2.5" fill="none"/>
<path d="M1374 631L1392 630.5" stroke-width="2.5" fill="none"/>
<path d="M1403.3 630.5L1403.3 615.2L1394.5 625.6L1406.8 625.3" stroke-width="2.5" fill="none"/>
<path d="M1414 618C1415.1 618 1416.5 618.5 1417.4 619.2C1418.3 619.9 1419.1 621.2 1419.5 622.3C1419.8 623.5 1419.8 625 1419.5 626.2C1419.1 627.3 1418.3 628.6 1417.4 629.3C1416.5 630 1415.1 630.5 1414 630.5C1412.9 630.5 1411.5 630 1410.6 629.3C1409.7 628.6 1408.9 627.3 1408.5 626.2C1408.2 625 1408.2 623.5 1408.5 622.3C1408.9 621.2 1409.7 619.9 1410.6 619.2C1411.5 618.5 1412.9 618 1414 618Z" stroke-width="2.5" fill="none"/>
<path d="M1422.2 608.8L1428.8 630.5L1436.8 608.8" stroke-width="2.5" fill="none"/>
</g>
</svg>
</body></html>
